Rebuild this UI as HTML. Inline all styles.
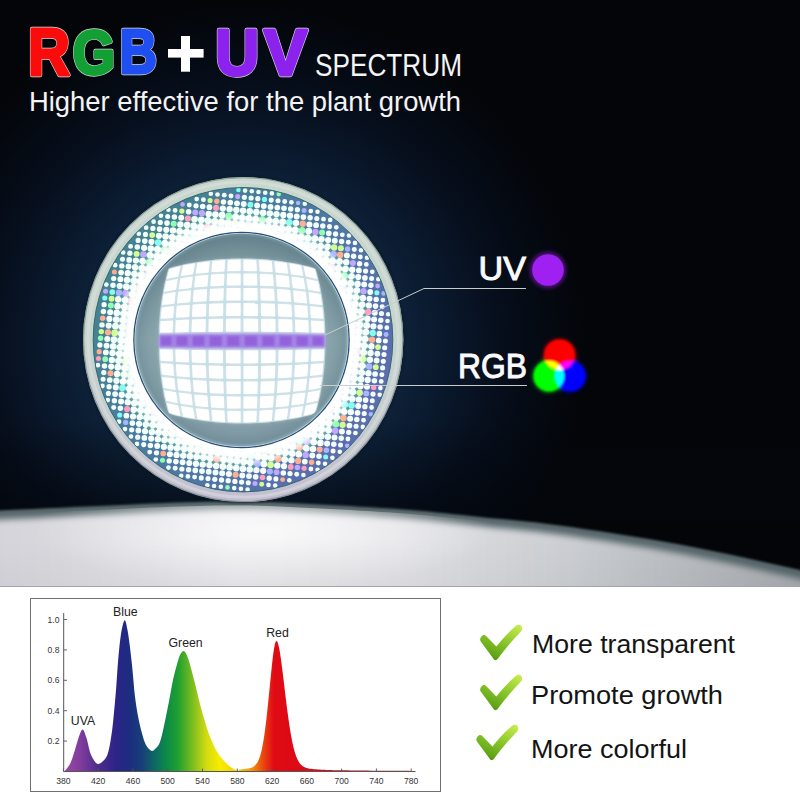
<!DOCTYPE html>
<html><head><meta charset="utf-8">
<style>
html,body{margin:0;padding:0;background:#fff;}
body{width:800px;height:800px;overflow:hidden;position:relative;font-family:"Liberation Sans",sans-serif;}
svg{position:absolute;left:0;top:0;}
</style></head><body>
<svg width="800" height="800" viewBox="0 0 800 800" font-family="Liberation Sans, sans-serif">
<defs>
<radialGradient id="glow" cx="244" cy="345" r="340" gradientUnits="userSpaceOnUse">
 <stop offset="0.47" stop-color="#0d2138"/>
 <stop offset="0.60" stop-color="#0a182c"/>
 <stop offset="0.72" stop-color="#07101f"/>
 <stop offset="0.84" stop-color="#050b15"/>
 <stop offset="1" stop-color="#030509"/>
</radialGradient>
<linearGradient id="rimg" x1="0" y1="0" x2="0" y2="1">
 <stop offset="0" stop-color="#c8d6ce"/>
 <stop offset="0.5" stop-color="#c8d4ce"/>
 <stop offset="0.85" stop-color="#c4c6d0"/>
 <stop offset="1" stop-color="#c4bcd2"/>
</linearGradient>
<linearGradient id="bandbase" x1="0" y1="0" x2="1" y2="0.6">
 <stop offset="0" stop-color="#42868a"/>
 <stop offset="0.5" stop-color="#4a7aa0"/>
 <stop offset="1" stop-color="#5e6cb0"/>
</linearGradient>
<radialGradient id="bandglow" cx="241.5" cy="340.0" r="150" gradientUnits="userSpaceOnUse">
 <stop offset="0.72" stop-color="#ffffff" stop-opacity="1"/>
 <stop offset="0.75" stop-color="#ffffff" stop-opacity="1"/>
 <stop offset="0.785" stop-color="#f4fffc" stop-opacity="0.6"/>
 <stop offset="0.835" stop-color="#ffffff" stop-opacity="0"/>
</radialGradient>
<radialGradient id="lensg" cx="241.5" cy="340.0" r="108.3" gradientUnits="userSpaceOnUse">
 <stop offset="0.7" stop-color="#92acb2"/>
 <stop offset="0.86" stop-color="#84a0a8"/>
 <stop offset="0.95" stop-color="#7a96a0"/>
 <stop offset="0.975" stop-color="#88a8b0"/>
 <stop offset="0.985" stop-color="#b4d2d2"/>
 <stop offset="0.992" stop-color="#2c4c7c"/>
 <stop offset="1" stop-color="#2c4c7c"/>
</radialGradient>
<linearGradient id="lensshade" x1="0" y1="0" x2="0" y2="1">
 <stop offset="0" stop-color="#1a3a48" stop-opacity="0.22"/>
 <stop offset="0.5" stop-color="#1a3a48" stop-opacity="0"/>
 <stop offset="1" stop-color="#3a4a70" stop-opacity="0.08"/>
</linearGradient>
<filter id="blurd" x="-5%" y="-5%" width="110%" height="110%"><feGaussianBlur stdDeviation="0.45"/></filter>
<filter id="blur2" x="-20%" y="-20%" width="140%" height="140%"><feGaussianBlur stdDeviation="2"/></filter>
<filter id="blur4" x="-20%" y="-20%" width="140%" height="140%"><feGaussianBlur stdDeviation="4"/></filter>
<filter id="blur1" x="-20%" y="-20%" width="140%" height="140%"><feGaussianBlur stdDeviation="0.8"/></filter>
<filter id="sblur" x="-10%" y="-10%" width="120%" height="120%"><feGaussianBlur stdDeviation="5"/></filter>

<linearGradient id="surfx" x1="0" y1="0" x2="800" y2="0" gradientUnits="userSpaceOnUse">
 <stop offset="0" stop-color="#d4d4da"/><stop offset="0.3" stop-color="#e6e6ea"/><stop offset="0.5" stop-color="#e0e0e4"/>
 <stop offset="0.72" stop-color="#cacdd1"/><stop offset="1" stop-color="#a6aaae"/>
</linearGradient>
<linearGradient id="surfy" x1="0" y1="540" x2="0" y2="587" gradientUnits="userSpaceOnUse">
 <stop offset="0" stop-color="#000" stop-opacity="0"/><stop offset="1" stop-color="#000" stop-opacity="0.03"/>
</linearGradient>
<radialGradient id="hl"><stop offset="0" stop-color="#fff" stop-opacity="0.8"/><stop offset="1" stop-color="#fff" stop-opacity="0"/></radialGradient>
<linearGradient id="horizon" x1="0" y1="420" x2="0" y2="520" gradientUnits="userSpaceOnUse"><stop offset="0" stop-color="#03060c" stop-opacity="0"/><stop offset="0.85" stop-color="#03060c" stop-opacity="0.55"/><stop offset="1" stop-color="#03060c" stop-opacity="0.6"/></linearGradient>
<filter id="blur3" x="-10%" y="-10%" width="120%" height="120%"><feGaussianBlur stdDeviation="3"/></filter>
<clipPath id="surfclip"><path d="M-40,640 L-40,513 L-37.3,512.8 L-34.2,512.6 L-30.6,512.3 L-26.2,512 L-21.2,511.7 L-15.2,511.3 L-8.1,510.9 L0,510.5 L9.8,510 L21.2,509.5 L34,508.9 L47.5,508.3 L61.3,507.7 L75,507.1 L88,506.5 L100,506 L111,505.5 L121.6,505 L131.9,504.5 L141.9,504 L151.6,503.6 L161.2,503.2 L170.6,502.8 L180,502.5 L189.2,502.2 L198,502 L206.5,501.7 L215,501.6 L223.5,501.4 L232,501.4 L240.8,501.4 L250,501.5 L259.5,501.7 L269.3,502 L279.3,502.4 L289.4,502.9 L299.6,503.4 L309.8,503.9 L319.9,504.5 L330,505 L340.1,505.5 L350.2,506.1 L360.4,506.7 L370.6,507.3 L380.7,507.9 L390.7,508.6 L400.5,509.3 L410,510 L419.2,510.8 L428,511.6 L436.5,512.4 L445,513.3 L453.5,514.2 L462,515.1 L470.8,516 L480,517 L489.2,517.9 L498.4,518.8 L507.5,519.6 L516.9,520.5 L526.6,521.5 L537,522.6 L548,523.9 L560,525.5 L573.1,527.3 L587.2,529.4 L602.1,531.6 L617.5,533.9 L633.2,536.4 L649.1,539 L664.7,541.7 L680,544.5 L695.4,547.5 L711.4,550.7 L727.6,554.1 L743.8,557.6 L759.4,561 L774.2,564.3 L787.9,567.3 L800,570 L810.8,572.4 L820.6,574.6 L829.5,576.7 L837.5,578.6 L844.5,580.3 L850.6,581.8 L855.8,583 L860,584 L860,640 Z" transform="translate(0,4)"/></clipPath>
<clipPath id="photoclip"><rect x="0" y="0" width="800" height="587"/></clipPath>
</defs>
<g clip-path="url(#photoclip)">
<rect x="0" y="0" width="800" height="587" fill="#030509"/>
<rect x="0" y="0" width="800" height="587" fill="url(#glow)"/>
<rect x="0" y="420" width="800" height="100" fill="url(#horizon)"/>
<path d="M-40,640 L-40,513 L-37.3,512.8 L-34.2,512.6 L-30.6,512.3 L-26.2,512 L-21.2,511.7 L-15.2,511.3 L-8.1,510.9 L0,510.5 L9.8,510 L21.2,509.5 L34,508.9 L47.5,508.3 L61.3,507.7 L75,507.1 L88,506.5 L100,506 L111,505.5 L121.6,505 L131.9,504.5 L141.9,504 L151.6,503.6 L161.2,503.2 L170.6,502.8 L180,502.5 L189.2,502.2 L198,502 L206.5,501.7 L215,501.6 L223.5,501.4 L232,501.4 L240.8,501.4 L250,501.5 L259.5,501.7 L269.3,502 L279.3,502.4 L289.4,502.9 L299.6,503.4 L309.8,503.9 L319.9,504.5 L330,505 L340.1,505.5 L350.2,506.1 L360.4,506.7 L370.6,507.3 L380.7,507.9 L390.7,508.6 L400.5,509.3 L410,510 L419.2,510.8 L428,511.6 L436.5,512.4 L445,513.3 L453.5,514.2 L462,515.1 L470.8,516 L480,517 L489.2,517.9 L498.4,518.8 L507.5,519.6 L516.9,520.5 L526.6,521.5 L537,522.6 L548,523.9 L560,525.5 L573.1,527.3 L587.2,529.4 L602.1,531.6 L617.5,533.9 L633.2,536.4 L649.1,539 L664.7,541.7 L680,544.5 L695.4,547.5 L711.4,550.7 L727.6,554.1 L743.8,557.6 L759.4,561 L774.2,564.3 L787.9,567.3 L800,570 L810.8,572.4 L820.6,574.6 L829.5,576.7 L837.5,578.6 L844.5,580.3 L850.6,581.8 L855.8,583 L860,584 L860,640 Z" fill="#56666a" filter="url(#blur1)"/>
<path d="M-40,640 L-40,513 L-37.3,512.8 L-34.2,512.6 L-30.6,512.3 L-26.2,512 L-21.2,511.7 L-15.2,511.3 L-8.1,510.9 L0,510.5 L9.8,510 L21.2,509.5 L34,508.9 L47.5,508.3 L61.3,507.7 L75,507.1 L88,506.5 L100,506 L111,505.5 L121.6,505 L131.9,504.5 L141.9,504 L151.6,503.6 L161.2,503.2 L170.6,502.8 L180,502.5 L189.2,502.2 L198,502 L206.5,501.7 L215,501.6 L223.5,501.4 L232,501.4 L240.8,501.4 L250,501.5 L259.5,501.7 L269.3,502 L279.3,502.4 L289.4,502.9 L299.6,503.4 L309.8,503.9 L319.9,504.5 L330,505 L340.1,505.5 L350.2,506.1 L360.4,506.7 L370.6,507.3 L380.7,507.9 L390.7,508.6 L400.5,509.3 L410,510 L419.2,510.8 L428,511.6 L436.5,512.4 L445,513.3 L453.5,514.2 L462,515.1 L470.8,516 L480,517 L489.2,517.9 L498.4,518.8 L507.5,519.6 L516.9,520.5 L526.6,521.5 L537,522.6 L548,523.9 L560,525.5 L573.1,527.3 L587.2,529.4 L602.1,531.6 L617.5,533.9 L633.2,536.4 L649.1,539 L664.7,541.7 L680,544.5 L695.4,547.5 L711.4,550.7 L727.6,554.1 L743.8,557.6 L759.4,561 L774.2,564.3 L787.9,567.3 L800,570 L810.8,572.4 L820.6,574.6 L829.5,576.7 L837.5,578.6 L844.5,580.3 L850.6,581.8 L855.8,583 L860,584 L860,640 Z" transform="translate(0,9)" fill="url(#surfx)" filter="url(#blur3)"/>
<ellipse cx="265" cy="530" rx="230" ry="60" fill="url(#hl)" clip-path="url(#surfclip)"/>
<rect x="0" y="540" width="800" height="47" fill="url(#surfy)"/>
<ellipse cx="243.2" cy="339.6" rx="161.39999999999998" ry="163.7" fill="#0a1a26" opacity="0.6" filter="url(#blur1)"/>
<ellipse cx="243.2" cy="339.6" rx="160.2" ry="162.5" fill="url(#rimg)"/>
<ellipse cx="243.2" cy="339.6" rx="159.6" ry="161.9" fill="none" stroke="#7a8c8a" stroke-width="1.1" opacity="0.8"/>
<ellipse cx="243.2" cy="339.6" rx="155.2" ry="157.5" fill="none" stroke="#dce4e0" stroke-width="3" opacity="0.5"/>
<ellipse cx="243.0" cy="339.7" rx="149.8" ry="152.2" fill="url(#bandbase)"/>
<g filter="url(#blurd)"><circle cx="106.3" cy="284.6" r="2.40" fill="#f2fffa"/><circle cx="105.6" cy="291.3" r="2.50" fill="#c0a8ff"/><circle cx="104.8" cy="298" r="2.57" fill="#80fff0"/><circle cx="104.1" cy="304.7" r="2.64" fill="#f2fffa"/><circle cx="103.4" cy="311.5" r="2.68" fill="#f2fffa"/><circle cx="102.7" cy="318.2" r="2.71" fill="#ffaf90"/><circle cx="102" cy="324.9" r="2.72" fill="#f2fffa"/><circle cx="101.3" cy="331.6" r="2.71" fill="#d0ff90"/><circle cx="100.6" cy="338.3" r="2.68" fill="#8dffb0"/><circle cx="99.9" cy="345" r="2.64" fill="#f2fffa"/><circle cx="99.2" cy="351.7" r="2.58" fill="#ffaf90"/><circle cx="98.5" cy="358.4" r="2.51" fill="#ff9fc0"/><circle cx="97.8" cy="365.2" r="2.41" fill="#f2fffa"/><circle cx="115.1" cy="265.2" r="2.36" fill="#f2fffa"/><circle cx="114.4" cy="271.9" r="2.50" fill="#ffaf90"/><circle cx="113.7" cy="278.6" r="2.64" fill="#f2fffa"/><circle cx="113" cy="285.3" r="2.75" fill="#f2fffa"/><circle cx="112.3" cy="292" r="2.85" fill="#80fff0"/><circle cx="111.6" cy="298.7" r="2.93" fill="#d0ff90"/><circle cx="110.9" cy="305.4" r="3.00" fill="#8dffb0"/><circle cx="110.2" cy="312.2" r="3.04" fill="#f2fffa"/><circle cx="109.4" cy="318.9" r="3.07" fill="#f2fffa"/><circle cx="108.7" cy="325.6" r="3.08" fill="#f2fffa"/><circle cx="108" cy="332.3" r="3.08" fill="#ffaf90"/><circle cx="107.3" cy="339" r="3.05" fill="#f2fffa"/><circle cx="106.6" cy="345.7" r="3.00" fill="#f2fffa"/><circle cx="105.9" cy="352.4" r="2.94" fill="#f2fffa"/><circle cx="105.2" cy="359.2" r="2.86" fill="#8dffb0"/><circle cx="104.5" cy="365.9" r="2.77" fill="#f2fffa"/><circle cx="103.8" cy="372.6" r="2.65" fill="#f2fffa"/><circle cx="103.1" cy="379.3" r="2.52" fill="#f2fffa"/><circle cx="102.4" cy="386" r="2.38" fill="#f2fffa"/><circle cx="123.2" cy="252.5" r="2.35" fill="#f2fffa"/><circle cx="122.5" cy="259.2" r="2.52" fill="#f2fffa"/><circle cx="121.8" cy="265.9" r="2.69" fill="#f2fffa"/><circle cx="121.1" cy="272.6" r="2.84" fill="#f2fffa"/><circle cx="120.4" cy="279.3" r="2.98" fill="#f2fffa"/><circle cx="119.7" cy="286" r="3.10" fill="#f2fffa"/><circle cx="119" cy="292.7" r="3.20" fill="#a9b6ff"/><circle cx="118.3" cy="299.4" r="3.29" fill="#f2fffa"/><circle cx="117.6" cy="306.2" r="3.36" fill="#f2fffa"/><circle cx="116.9" cy="312.9" r="3.41" fill="#f2fffa"/><circle cx="116.2" cy="319.6" r="3.44" fill="#f2fffa"/><circle cx="115.5" cy="326.3" r="3.45" fill="#f2fffa"/><circle cx="114.7" cy="333" r="3.44" fill="#d0ff90"/><circle cx="114" cy="339.7" r="3.41" fill="#f2fffa"/><circle cx="113.3" cy="346.4" r="3.37" fill="#f2fffa"/><circle cx="112.6" cy="353.1" r="3.30" fill="#f2fffa"/><circle cx="111.9" cy="359.9" r="3.22" fill="#f2fffa"/><circle cx="111.2" cy="366.6" r="3.11" fill="#f2fffa"/><circle cx="110.5" cy="373.3" r="3.00" fill="#ffaf90"/><circle cx="109.8" cy="380" r="2.86" fill="#f2fffa"/><circle cx="109.1" cy="386.7" r="2.71" fill="#f2fffa"/><circle cx="108.4" cy="393.4" r="2.55" fill="#f2fffa"/><circle cx="107.7" cy="400.1" r="2.37" fill="#f2fffa"/><circle cx="130.6" cy="246.4" r="2.46" fill="#f2fffa"/><circle cx="129.9" cy="253.2" r="2.66" fill="#f2fffa"/><circle cx="129.2" cy="259.9" r="2.84" fill="#f2fffa"/><circle cx="128.5" cy="266.6" r="3.02" fill="#f2fffa"/><circle cx="127.8" cy="273.3" r="3.18" fill="#f2fffa"/><circle cx="127.1" cy="280" r="3.32" fill="#f2fffa"/><circle cx="126.4" cy="286.7" r="3.45" fill="#f2fffa"/><circle cx="125.7" cy="293.4" r="3.56" fill="#c0a8ff"/><circle cx="125" cy="300.1" r="3.60" fill="#f2fffa"/><circle cx="124.3" cy="306.9" r="3.60" fill="#f2fffa"/><circle cx="123.6" cy="313.6" r="3.60" fill="#f2fffa"/><circle cx="122.9" cy="320.3" r="3.60" fill="#f2fffa"/><circle cx="122.2" cy="327" r="3.60" fill="#f2fffa"/><circle cx="121.5" cy="333.7" r="3.60" fill="#f2fffa"/><circle cx="120.8" cy="340.4" r="3.60" fill="#f2fffa"/><circle cx="120" cy="347.1" r="3.60" fill="#f2fffa"/><circle cx="119.3" cy="353.9" r="3.60" fill="#f2fffa"/><circle cx="118.6" cy="360.6" r="3.57" fill="#f2fffa"/><circle cx="117.9" cy="367.3" r="3.46" fill="#f2fffa"/><circle cx="117.2" cy="374" r="3.34" fill="#f2fffa"/><circle cx="116.5" cy="380.7" r="3.20" fill="#f2fffa"/><circle cx="115.8" cy="387.4" r="3.04" fill="#f2fffa"/><circle cx="115.1" cy="394.1" r="2.87" fill="#f2fffa"/><circle cx="114.4" cy="400.8" r="2.68" fill="#f2fffa"/><circle cx="113.7" cy="407.6" r="2.49" fill="#f2fffa"/><circle cx="138.8" cy="233.7" r="2.31" fill="#f2fffa"/><circle cx="138.1" cy="240.4" r="2.54" fill="#f2fffa"/><circle cx="137.3" cy="247.1" r="2.76" fill="#f2fffa"/><circle cx="136.6" cy="253.9" r="2.97" fill="#d0ff90"/><circle cx="135.9" cy="260.6" r="3.16" fill="#f2fffa"/><circle cx="135.2" cy="267.3" r="3.34" fill="#f2fffa"/><circle cx="134.5" cy="274" r="3.51" fill="#f2fffa"/><circle cx="133.8" cy="280.7" r="3.60" fill="#f2fffa"/><circle cx="133.1" cy="287.4" r="3.60" fill="#f2fffa"/><circle cx="132.4" cy="294.1" r="3.60" fill="#f2fffa"/><circle cx="131.7" cy="300.9" r="3.60" fill="#ff9fc0"/><circle cx="131" cy="307.6" r="3.60" fill="#c0a8ff"/><circle cx="130.3" cy="314.3" r="3.60" fill="#f2fffa"/><circle cx="127.5" cy="341.1" r="3.60" fill="#f2fffa"/><circle cx="126.8" cy="347.8" r="3.60" fill="#f2fffa"/><circle cx="126.1" cy="354.6" r="3.60" fill="#f2fffa"/><circle cx="125.4" cy="361.3" r="3.60" fill="#d0ff90"/><circle cx="124.6" cy="368" r="3.60" fill="#f2fffa"/><circle cx="123.9" cy="374.7" r="3.60" fill="#f2fffa"/><circle cx="123.2" cy="381.4" r="3.53" fill="#f2fffa"/><circle cx="122.5" cy="388.1" r="3.37" fill="#80fff0"/><circle cx="121.8" cy="394.8" r="3.19" fill="#f2fffa"/><circle cx="121.1" cy="401.5" r="2.99" fill="#f2fffa"/><circle cx="120.4" cy="408.3" r="2.79" fill="#f2fffa"/><circle cx="119.7" cy="415" r="2.57" fill="#80fff0"/><circle cx="119" cy="421.7" r="2.34" fill="#f2fffa"/><circle cx="146.2" cy="227.7" r="2.34" fill="#f2fffa"/><circle cx="145.5" cy="234.4" r="2.59" fill="#f2fffa"/><circle cx="144.8" cy="241.1" r="2.82" fill="#f2fffa"/><circle cx="144.1" cy="247.9" r="3.05" fill="#f2fffa"/><circle cx="143.4" cy="254.6" r="3.27" fill="#c0a8ff"/><circle cx="142.6" cy="261.3" r="3.47" fill="#f2fffa"/><circle cx="141.9" cy="268" r="3.60" fill="#f2fffa"/><circle cx="141.2" cy="274.7" r="3.60" fill="#f2fffa"/><circle cx="140.5" cy="281.4" r="3.60" fill="#f2fffa"/><circle cx="139.8" cy="288.1" r="3.60" fill="#ffaf90"/><circle cx="130.7" cy="375.4" r="3.60" fill="#8dffb0"/><circle cx="129.9" cy="382.1" r="3.60" fill="#f2fffa"/><circle cx="129.2" cy="388.8" r="3.60" fill="#f2fffa"/><circle cx="128.5" cy="395.5" r="3.50" fill="#f2fffa"/><circle cx="127.8" cy="402.3" r="3.30" fill="#f2fffa"/><circle cx="127.1" cy="409" r="3.08" fill="#ff9fc0"/><circle cx="126.4" cy="415.7" r="2.86" fill="#f2fffa"/><circle cx="125.7" cy="422.4" r="2.62" fill="#a9b6ff"/><circle cx="125" cy="429.1" r="2.37" fill="#f2fffa"/><circle cx="153.6" cy="221.7" r="2.33" fill="#f2fffa"/><circle cx="152.9" cy="228.4" r="2.60" fill="#f2fffa"/><circle cx="152.2" cy="235.1" r="2.86" fill="#d0ff90"/><circle cx="151.5" cy="241.8" r="3.10" fill="#f2fffa"/><circle cx="150.8" cy="248.6" r="3.34" fill="#f2fffa"/><circle cx="150.1" cy="255.3" r="3.56" fill="#f2fffa"/><circle cx="149.4" cy="262" r="3.60" fill="#8dffb0"/><circle cx="148.7" cy="268.7" r="3.60" fill="#f2fffa"/><circle cx="136" cy="389.5" r="3.60" fill="#f2fffa"/><circle cx="135.2" cy="396.2" r="3.60" fill="#f2fffa"/><circle cx="134.5" cy="403" r="3.59" fill="#f2fffa"/><circle cx="133.8" cy="409.7" r="3.37" fill="#f2fffa"/><circle cx="133.1" cy="416.4" r="3.14" fill="#f2fffa"/><circle cx="132.4" cy="423.1" r="2.89" fill="#f2fffa"/><circle cx="131.7" cy="429.8" r="2.63" fill="#f2fffa"/><circle cx="131" cy="436.5" r="2.37" fill="#f2fffa"/><circle cx="161" cy="215.7" r="2.30" fill="#f2fffa"/><circle cx="160.3" cy="222.4" r="2.58" fill="#f2fffa"/><circle cx="159.6" cy="229.1" r="2.85" fill="#f2fffa"/><circle cx="158.9" cy="235.8" r="3.12" fill="#f2fffa"/><circle cx="158.2" cy="242.6" r="3.37" fill="#80fff0"/><circle cx="157.5" cy="249.3" r="3.60" fill="#f2fffa"/><circle cx="156.8" cy="256" r="3.60" fill="#f2fffa"/><circle cx="156.1" cy="262.7" r="3.60" fill="#f2fffa"/><circle cx="142" cy="397" r="3.60" fill="#f2fffa"/><circle cx="141.3" cy="403.7" r="3.60" fill="#f2fffa"/><circle cx="140.6" cy="410.4" r="3.60" fill="#f2fffa"/><circle cx="139.8" cy="417.1" r="3.41" fill="#f2fffa"/><circle cx="139.1" cy="423.8" r="3.15" fill="#f2fffa"/><circle cx="138.4" cy="430.5" r="2.89" fill="#f2fffa"/><circle cx="137.7" cy="437.2" r="2.61" fill="#f2fffa"/><circle cx="137" cy="443.9" r="2.33" fill="#f2fffa"/><circle cx="168.4" cy="209.7" r="2.30" fill="#f2fffa"/><circle cx="167.7" cy="216.4" r="2.52" fill="#f2fffa"/><circle cx="167" cy="223.1" r="2.81" fill="#f2fffa"/><circle cx="166.3" cy="229.8" r="3.09" fill="#f2fffa"/><circle cx="165.6" cy="236.5" r="3.37" fill="#f2fffa"/><circle cx="164.9" cy="243.3" r="3.60" fill="#f2fffa"/><circle cx="164.2" cy="250" r="3.60" fill="#8dffb0"/><circle cx="163.5" cy="256.7" r="3.60" fill="#f2fffa"/><circle cx="147.3" cy="411.1" r="3.60" fill="#f2fffa"/><circle cx="146.6" cy="417.8" r="3.60" fill="#f2fffa"/><circle cx="145.9" cy="424.5" r="3.40" fill="#f2fffa"/><circle cx="145.1" cy="431.2" r="3.13" fill="#f2fffa"/><circle cx="144.4" cy="437.9" r="2.85" fill="#f2fffa"/><circle cx="143.7" cy="444.6" r="2.56" fill="#f2fffa"/><circle cx="175.1" cy="210.4" r="2.43" fill="#f2fffa"/><circle cx="174.4" cy="217.1" r="2.73" fill="#f2fffa"/><circle cx="173.7" cy="223.8" r="3.03" fill="#8dffb0"/><circle cx="173" cy="230.5" r="3.32" fill="#f2fffa"/><circle cx="172.3" cy="237.3" r="3.60" fill="#f2fffa"/><circle cx="171.6" cy="244" r="3.60" fill="#f2fffa"/><circle cx="153.3" cy="418.5" r="3.60" fill="#f2fffa"/><circle cx="152.6" cy="425.2" r="3.60" fill="#f2fffa"/><circle cx="151.9" cy="431.9" r="3.36" fill="#f2fffa"/><circle cx="151.2" cy="438.6" r="3.07" fill="#f2fffa"/><circle cx="150.4" cy="445.4" r="2.77" fill="#f2fffa"/><circle cx="149.7" cy="452.1" r="2.47" fill="#f2fffa"/><circle cx="182.6" cy="204.4" r="2.31" fill="#c0a8ff"/><circle cx="181.9" cy="211.1" r="2.62" fill="#d0ff90"/><circle cx="181.2" cy="217.8" r="2.94" fill="#f2fffa"/><circle cx="180.4" cy="224.5" r="3.24" fill="#f2fffa"/><circle cx="179.7" cy="231.2" r="3.54" fill="#f2fffa"/><circle cx="179" cy="238" r="3.60" fill="#f2fffa"/><circle cx="178.3" cy="244.7" r="3.60" fill="#f2fffa"/><circle cx="159.3" cy="425.9" r="3.60" fill="#f2fffa"/><circle cx="158.6" cy="432.6" r="3.58" fill="#f2fffa"/><circle cx="157.9" cy="439.3" r="3.28" fill="#f2fffa"/><circle cx="157.2" cy="446.1" r="2.98" fill="#f2fffa"/><circle cx="156.5" cy="452.8" r="2.67" fill="#f2fffa"/><circle cx="155.8" cy="459.5" r="2.35" fill="#f2fffa"/><circle cx="189.3" cy="205.1" r="2.48" fill="#f2fffa"/><circle cx="188.6" cy="211.8" r="2.80" fill="#f2fffa"/><circle cx="187.9" cy="218.5" r="3.12" fill="#ff9fc0"/><circle cx="187.2" cy="225.2" r="3.44" fill="#f2fffa"/><circle cx="186.5" cy="231.9" r="3.60" fill="#f2fffa"/><circle cx="185.7" cy="238.7" r="3.60" fill="#f2fffa"/><circle cx="166" cy="426.6" r="3.60" fill="#f2fffa"/><circle cx="165.3" cy="433.3" r="3.60" fill="#f2fffa"/><circle cx="164.6" cy="440.1" r="3.48" fill="#f2fffa"/><circle cx="163.9" cy="446.8" r="3.17" fill="#f2fffa"/><circle cx="163.2" cy="453.5" r="2.85" fill="#ffaf90"/><circle cx="162.5" cy="460.2" r="2.52" fill="#8dffb0"/><circle cx="196.7" cy="199.1" r="2.31" fill="#f2fffa"/><circle cx="196" cy="205.8" r="2.64" fill="#f2fffa"/><circle cx="195.3" cy="212.5" r="2.97" fill="#c0a8ff"/><circle cx="194.6" cy="219.2" r="3.30" fill="#f2fffa"/><circle cx="193.9" cy="225.9" r="3.60" fill="#f2fffa"/><circle cx="193.2" cy="232.7" r="3.60" fill="#f2fffa"/><circle cx="172" cy="434" r="3.60" fill="#f2fffa"/><circle cx="171.3" cy="440.8" r="3.60" fill="#f2fffa"/><circle cx="170.6" cy="447.5" r="3.34" fill="#f2fffa"/><circle cx="169.9" cy="454.2" r="3.02" fill="#f2fffa"/><circle cx="169.2" cy="460.9" r="2.69" fill="#f2fffa"/><circle cx="168.5" cy="467.6" r="2.35" fill="#f2fffa"/><circle cx="203.4" cy="199.8" r="2.45" fill="#f2fffa"/><circle cx="202.7" cy="206.5" r="2.79" fill="#f2fffa"/><circle cx="202" cy="213.2" r="3.12" fill="#c0a8ff"/><circle cx="201.3" cy="219.9" r="3.46" fill="#f2fffa"/><circle cx="200.6" cy="226.6" r="3.60" fill="#f2fffa"/><circle cx="199.9" cy="233.4" r="3.60" fill="#f2fffa"/><circle cx="178" cy="441.5" r="3.60" fill="#f2fffa"/><circle cx="177.3" cy="448.2" r="3.50" fill="#f2fffa"/><circle cx="176.6" cy="454.9" r="3.17" fill="#f2fffa"/><circle cx="175.9" cy="461.6" r="2.83" fill="#f2fffa"/><circle cx="175.2" cy="468.3" r="2.49" fill="#f2fffa"/><circle cx="210.8" cy="193.8" r="2.30" fill="#f2fffa"/><circle cx="210.1" cy="200.5" r="2.57" fill="#d0ff90"/><circle cx="209.4" cy="207.2" r="2.92" fill="#f2fffa"/><circle cx="208.7" cy="213.9" r="3.26" fill="#f2fffa"/><circle cx="208" cy="220.6" r="3.60" fill="#f2fffa"/><circle cx="207.3" cy="227.4" r="3.60" fill="#ff9fc0"/><circle cx="184.7" cy="442.2" r="3.60" fill="#f2fffa"/><circle cx="184" cy="448.9" r="3.60" fill="#f2fffa"/><circle cx="183.3" cy="455.6" r="3.31" fill="#f2fffa"/><circle cx="182.6" cy="462.3" r="2.96" fill="#f2fffa"/><circle cx="181.9" cy="469" r="2.62" fill="#f2fffa"/><circle cx="181.2" cy="475.7" r="2.30" fill="#f2fffa"/><circle cx="217.5" cy="194.5" r="2.33" fill="#f2fffa"/><circle cx="216.8" cy="201.2" r="2.68" fill="#ffaf90"/><circle cx="216.1" cy="207.9" r="3.03" fill="#ff9fc0"/><circle cx="215.4" cy="214.6" r="3.38" fill="#f2fffa"/><circle cx="214.7" cy="221.3" r="3.60" fill="#f2fffa"/><circle cx="214" cy="228.1" r="3.60" fill="#f2fffa"/><circle cx="191.4" cy="442.9" r="3.60" fill="#f2fffa"/><circle cx="190.7" cy="449.6" r="3.60" fill="#f2fffa"/><circle cx="190" cy="456.3" r="3.43" fill="#f2fffa"/><circle cx="189.3" cy="463" r="3.08" fill="#f2fffa"/><circle cx="188.6" cy="469.7" r="2.73" fill="#f2fffa"/><circle cx="187.9" cy="476.4" r="2.38" fill="#f2fffa"/><circle cx="224.3" cy="195.2" r="2.42" fill="#f2fffa"/><circle cx="223.5" cy="201.9" r="2.77" fill="#f2fffa"/><circle cx="222.8" cy="208.6" r="3.13" fill="#f2fffa"/><circle cx="222.1" cy="215.3" r="3.48" fill="#f2fffa"/><circle cx="221.4" cy="222.1" r="3.60" fill="#f2fffa"/><circle cx="197.4" cy="450.3" r="3.60" fill="#f2fffa"/><circle cx="196.7" cy="457" r="3.53" fill="#f2fffa"/><circle cx="196" cy="463.7" r="3.18" fill="#f2fffa"/><circle cx="195.3" cy="470.4" r="2.82" fill="#f2fffa"/><circle cx="194.6" cy="477.1" r="2.47" fill="#f2fffa"/><circle cx="231" cy="195.9" r="2.49" fill="#f2fffa"/><circle cx="230.3" cy="202.6" r="2.85" fill="#f2fffa"/><circle cx="229.6" cy="209.3" r="3.21" fill="#f2fffa"/><circle cx="228.8" cy="216" r="3.57" fill="#8dffb0"/><circle cx="228.1" cy="222.8" r="3.60" fill="#f2fffa"/><circle cx="204.2" cy="451" r="3.60" fill="#f2fffa"/><circle cx="203.4" cy="457.7" r="3.60" fill="#f2fffa"/><circle cx="202.7" cy="464.4" r="3.26" fill="#f2fffa"/><circle cx="202" cy="471.1" r="2.90" fill="#f2fffa"/><circle cx="201.3" cy="477.9" r="2.54" fill="#f2fffa"/><circle cx="238.4" cy="189.9" r="2.30" fill="#80fff0"/><circle cx="237.7" cy="196.6" r="2.55" fill="#c0a8ff"/><circle cx="237" cy="203.3" r="2.91" fill="#f2fffa"/><circle cx="236.3" cy="210" r="3.27" fill="#f2fffa"/><circle cx="235.6" cy="216.7" r="3.60" fill="#f2fffa"/><circle cx="234.9" cy="223.5" r="3.60" fill="#d0ff90"/><circle cx="210.9" cy="451.7" r="3.60" fill="#f2fffa"/><circle cx="210.2" cy="458.4" r="3.60" fill="#f2fffa"/><circle cx="209.5" cy="465.1" r="3.32" fill="#f2fffa"/><circle cx="208.7" cy="471.8" r="2.96" fill="#f2fffa"/><circle cx="208" cy="478.6" r="2.60" fill="#f2fffa"/><circle cx="207.3" cy="485.3" r="2.30" fill="#f2fffa"/><circle cx="245.1" cy="190.6" r="2.30" fill="#f2fffa"/><circle cx="244.4" cy="197.3" r="2.59" fill="#f2fffa"/><circle cx="243.7" cy="204" r="2.95" fill="#f2fffa"/><circle cx="243" cy="210.7" r="3.31" fill="#f2fffa"/><circle cx="242.3" cy="217.5" r="3.60" fill="#f2fffa"/><circle cx="241.6" cy="224.2" r="3.60" fill="#f2fffa"/><circle cx="217.6" cy="452.4" r="3.60" fill="#f2fffa"/><circle cx="216.9" cy="459.1" r="3.60" fill="#ffaf90"/><circle cx="216.2" cy="465.8" r="3.36" fill="#f2fffa"/><circle cx="215.5" cy="472.5" r="3.00" fill="#f2fffa"/><circle cx="214.8" cy="479.3" r="2.64" fill="#f2fffa"/><circle cx="214.1" cy="486" r="2.30" fill="#f2fffa"/><circle cx="251.8" cy="191.3" r="2.30" fill="#f2fffa"/><circle cx="251.1" cy="198" r="2.61" fill="#f2fffa"/><circle cx="250.4" cy="204.7" r="2.97" fill="#80fff0"/><circle cx="249.7" cy="211.4" r="3.34" fill="#f2fffa"/><circle cx="249" cy="218.2" r="3.60" fill="#f2fffa"/><circle cx="248.3" cy="224.9" r="3.60" fill="#a9b6ff"/><circle cx="224.3" cy="453.1" r="3.60" fill="#80fff0"/><circle cx="223.6" cy="459.8" r="3.60" fill="#f2fffa"/><circle cx="222.9" cy="466.5" r="3.39" fill="#f2fffa"/><circle cx="222.2" cy="473.3" r="3.02" fill="#f2fffa"/><circle cx="221.5" cy="480" r="2.66" fill="#f2fffa"/><circle cx="220.8" cy="486.7" r="2.30" fill="#f2fffa"/><circle cx="258.5" cy="192" r="2.30" fill="#f2fffa"/><circle cx="257.8" cy="198.7" r="2.61" fill="#f2fffa"/><circle cx="257.1" cy="205.4" r="2.98" fill="#f2fffa"/><circle cx="256.4" cy="212.2" r="3.34" fill="#f2fffa"/><circle cx="255.7" cy="218.9" r="3.60" fill="#f2fffa"/><circle cx="255" cy="225.6" r="3.60" fill="#f2fffa"/><circle cx="231" cy="453.8" r="3.60" fill="#f2fffa"/><circle cx="230.3" cy="460.5" r="3.60" fill="#f2fffa"/><circle cx="229.6" cy="467.2" r="3.39" fill="#f2fffa"/><circle cx="228.9" cy="474" r="3.03" fill="#f2fffa"/><circle cx="228.2" cy="480.7" r="2.66" fill="#f2fffa"/><circle cx="227.5" cy="487.4" r="2.30" fill="#8dffb0"/><circle cx="265.2" cy="192.7" r="2.30" fill="#f2fffa"/><circle cx="264.5" cy="199.4" r="2.60" fill="#80fff0"/><circle cx="263.8" cy="206.1" r="2.97" fill="#f2fffa"/><circle cx="263.1" cy="212.9" r="3.33" fill="#f2fffa"/><circle cx="262.4" cy="219.6" r="3.60" fill="#8dffb0"/><circle cx="261.7" cy="226.3" r="3.60" fill="#f2fffa"/><circle cx="237.7" cy="454.5" r="3.60" fill="#f2fffa"/><circle cx="237" cy="461.2" r="3.60" fill="#f2fffa"/><circle cx="236.3" cy="468" r="3.38" fill="#f2fffa"/><circle cx="235.6" cy="474.7" r="3.02" fill="#ffaf90"/><circle cx="234.9" cy="481.4" r="2.65" fill="#f2fffa"/><circle cx="234.2" cy="488.1" r="2.30" fill="#f2fffa"/><circle cx="271.9" cy="193.4" r="2.30" fill="#f2fffa"/><circle cx="271.2" cy="200.1" r="2.57" fill="#f2fffa"/><circle cx="270.5" cy="206.9" r="2.93" fill="#f2fffa"/><circle cx="269.8" cy="213.6" r="3.30" fill="#f2fffa"/><circle cx="269.1" cy="220.3" r="3.60" fill="#f2fffa"/><circle cx="268.4" cy="227" r="3.60" fill="#f2fffa"/><circle cx="244.4" cy="455.2" r="3.60" fill="#f2fffa"/><circle cx="243.7" cy="461.9" r="3.60" fill="#f2fffa"/><circle cx="243" cy="468.7" r="3.35" fill="#f2fffa"/><circle cx="242.3" cy="475.4" r="2.98" fill="#f2fffa"/><circle cx="241.6" cy="482.1" r="2.62" fill="#f2fffa"/><circle cx="240.9" cy="488.8" r="2.30" fill="#f2fffa"/><circle cx="278.7" cy="194.1" r="2.30" fill="#8dffb0"/><circle cx="278" cy="200.8" r="2.52" fill="#f2fffa"/><circle cx="277.3" cy="207.6" r="2.89" fill="#f2fffa"/><circle cx="276.5" cy="214.3" r="3.25" fill="#f2fffa"/><circle cx="275.8" cy="221" r="3.60" fill="#f2fffa"/><circle cx="275.1" cy="227.7" r="3.60" fill="#f2fffa"/><circle cx="251.1" cy="455.9" r="3.60" fill="#80fff0"/><circle cx="250.4" cy="462.7" r="3.60" fill="#f2fffa"/><circle cx="249.7" cy="469.4" r="3.30" fill="#f2fffa"/><circle cx="249" cy="476.1" r="2.93" fill="#f2fffa"/><circle cx="248.3" cy="482.8" r="2.57" fill="#f2fffa"/><circle cx="247.6" cy="489.5" r="2.30" fill="#f2fffa"/><circle cx="284.7" cy="201.5" r="2.46" fill="#f2fffa"/><circle cx="284" cy="208.3" r="2.82" fill="#f2fffa"/><circle cx="283.3" cy="215" r="3.18" fill="#f2fffa"/><circle cx="282.6" cy="221.7" r="3.53" fill="#f2fffa"/><circle cx="281.8" cy="228.4" r="3.60" fill="#f2fffa"/><circle cx="257.9" cy="456.6" r="3.60" fill="#f2fffa"/><circle cx="257.2" cy="463.4" r="3.58" fill="#a9b6ff"/><circle cx="256.4" cy="470.1" r="3.22" fill="#f2fffa"/><circle cx="255.7" cy="476.8" r="2.87" fill="#f2fffa"/><circle cx="255" cy="483.5" r="2.51" fill="#c0a8ff"/><circle cx="291.4" cy="202.3" r="2.38" fill="#f2fffa"/><circle cx="290.7" cy="209" r="2.74" fill="#f2fffa"/><circle cx="290" cy="215.7" r="3.09" fill="#f2fffa"/><circle cx="289.3" cy="222.4" r="3.44" fill="#80fff0"/><circle cx="288.6" cy="229.1" r="3.60" fill="#f2fffa"/><circle cx="287.9" cy="235.8" r="3.60" fill="#f2fffa"/><circle cx="264.6" cy="457.3" r="3.60" fill="#f2fffa"/><circle cx="263.9" cy="464.1" r="3.49" fill="#f2fffa"/><circle cx="263.2" cy="470.8" r="3.14" fill="#f2fffa"/><circle cx="262.5" cy="477.5" r="2.78" fill="#ff9fc0"/><circle cx="261.7" cy="484.2" r="2.43" fill="#d0ff90"/><circle cx="298.1" cy="203" r="2.30" fill="#a9b6ff"/><circle cx="297.4" cy="209.7" r="2.64" fill="#f2fffa"/><circle cx="296.7" cy="216.4" r="2.98" fill="#f2fffa"/><circle cx="296" cy="223.1" r="3.33" fill="#f2fffa"/><circle cx="295.3" cy="229.8" r="3.60" fill="#f2fffa"/><circle cx="294.6" cy="236.5" r="3.60" fill="#f2fffa"/><circle cx="272" cy="451.3" r="3.60" fill="#f2fffa"/><circle cx="271.3" cy="458.1" r="3.60" fill="#f2fffa"/><circle cx="270.6" cy="464.8" r="3.38" fill="#d0ff90"/><circle cx="269.9" cy="471.5" r="3.03" fill="#a9b6ff"/><circle cx="269.2" cy="478.2" r="2.68" fill="#f2fffa"/><circle cx="268.5" cy="484.9" r="2.33" fill="#f2fffa"/><circle cx="304.8" cy="203.7" r="2.30" fill="#f2fffa"/><circle cx="304.1" cy="210.4" r="2.52" fill="#a9b6ff"/><circle cx="303.4" cy="217.1" r="2.86" fill="#f2fffa"/><circle cx="302.7" cy="223.8" r="3.20" fill="#ffaf90"/><circle cx="302" cy="230.5" r="3.54" fill="#8dffb0"/><circle cx="301.3" cy="237.2" r="3.60" fill="#f2fffa"/><circle cx="278.7" cy="452" r="3.60" fill="#f2fffa"/><circle cx="278" cy="458.8" r="3.59" fill="#ffaf90"/><circle cx="277.3" cy="465.5" r="3.25" fill="#f2fffa"/><circle cx="276.6" cy="472.2" r="2.91" fill="#c0a8ff"/><circle cx="275.9" cy="478.9" r="2.57" fill="#f2fffa"/><circle cx="275.2" cy="485.6" r="2.30" fill="#f2fffa"/><circle cx="310.8" cy="211.1" r="2.39" fill="#f2fffa"/><circle cx="310.1" cy="217.8" r="2.73" fill="#f2fffa"/><circle cx="309.4" cy="224.5" r="3.06" fill="#f2fffa"/><circle cx="308.7" cy="231.2" r="3.39" fill="#f2fffa"/><circle cx="308" cy="237.9" r="3.60" fill="#f2fffa"/><circle cx="307.3" cy="244.6" r="3.60" fill="#80fff0"/><circle cx="286.1" cy="446" r="3.60" fill="#f2fffa"/><circle cx="285.4" cy="452.8" r="3.60" fill="#f2fffa"/><circle cx="284.7" cy="459.5" r="3.44" fill="#f2fffa"/><circle cx="284" cy="466.2" r="3.10" fill="#f2fffa"/><circle cx="283.3" cy="472.9" r="2.77" fill="#f2fffa"/><circle cx="282.6" cy="479.6" r="2.43" fill="#ffaf90"/><circle cx="317.5" cy="211.8" r="2.30" fill="#f2fffa"/><circle cx="316.8" cy="218.5" r="2.57" fill="#f2fffa"/><circle cx="316.1" cy="225.2" r="2.90" fill="#f2fffa"/><circle cx="315.4" cy="231.9" r="3.22" fill="#c0a8ff"/><circle cx="314.7" cy="238.6" r="3.54" fill="#f2fffa"/><circle cx="314" cy="245.4" r="3.60" fill="#f2fffa"/><circle cx="292.8" cy="446.7" r="3.60" fill="#f2fffa"/><circle cx="292.1" cy="453.5" r="3.59" fill="#f2fffa"/><circle cx="291.4" cy="460.2" r="3.27" fill="#f2fffa"/><circle cx="290.7" cy="466.9" r="2.94" fill="#ff9fc0"/><circle cx="290" cy="473.6" r="2.62" fill="#f2fffa"/><circle cx="289.3" cy="480.3" r="2.30" fill="#f2fffa"/><circle cx="323.5" cy="219.2" r="2.41" fill="#f2fffa"/><circle cx="322.8" cy="225.9" r="2.73" fill="#f2fffa"/><circle cx="322.1" cy="232.6" r="3.04" fill="#8dffb0"/><circle cx="321.4" cy="239.3" r="3.36" fill="#f2fffa"/><circle cx="320.7" cy="246.1" r="3.60" fill="#f2fffa"/><circle cx="320" cy="252.8" r="3.60" fill="#f2fffa"/><circle cx="300.3" cy="440.7" r="3.60" fill="#80fff0"/><circle cx="299.5" cy="447.5" r="3.60" fill="#ffaf90"/><circle cx="298.8" cy="454.2" r="3.40" fill="#f2fffa"/><circle cx="298.1" cy="460.9" r="3.09" fill="#ffaf90"/><circle cx="297.4" cy="467.6" r="2.77" fill="#c0a8ff"/><circle cx="296.7" cy="474.3" r="2.45" fill="#f2fffa"/><circle cx="330.2" cy="219.9" r="2.30" fill="#f2fffa"/><circle cx="329.5" cy="226.6" r="2.54" fill="#f2fffa"/><circle cx="328.8" cy="233.3" r="2.85" fill="#f2fffa"/><circle cx="328.1" cy="240.1" r="3.15" fill="#f2fffa"/><circle cx="327.4" cy="246.8" r="3.45" fill="#f2fffa"/><circle cx="326.7" cy="253.5" r="3.60" fill="#f2fffa"/><circle cx="326" cy="260.2" r="3.60" fill="#f2fffa"/><circle cx="307.7" cy="434.7" r="3.60" fill="#f2fffa"/><circle cx="307" cy="441.4" r="3.60" fill="#c0a8ff"/><circle cx="306.3" cy="448.2" r="3.49" fill="#f2fffa"/><circle cx="305.6" cy="454.9" r="3.19" fill="#c0a8ff"/><circle cx="304.8" cy="461.6" r="2.89" fill="#f2fffa"/><circle cx="304.1" cy="468.3" r="2.58" fill="#ff9fc0"/><circle cx="303.4" cy="475" r="2.30" fill="#f2fffa"/><circle cx="336.3" cy="227.3" r="2.34" fill="#f2fffa"/><circle cx="335.6" cy="234" r="2.64" fill="#f2fffa"/><circle cx="334.8" cy="240.8" r="2.94" fill="#f2fffa"/><circle cx="334.1" cy="247.5" r="3.22" fill="#d0ff90"/><circle cx="333.4" cy="254.2" r="3.50" fill="#a9b6ff"/><circle cx="332.7" cy="260.9" r="3.60" fill="#f2fffa"/><circle cx="332" cy="267.6" r="3.60" fill="#ff9fc0"/><circle cx="315.1" cy="428.7" r="3.60" fill="#f2fffa"/><circle cx="314.4" cy="435.4" r="3.60" fill="#f2fffa"/><circle cx="313.7" cy="442.1" r="3.54" fill="#f2fffa"/><circle cx="313" cy="448.9" r="3.26" fill="#f2fffa"/><circle cx="312.3" cy="455.6" r="2.98" fill="#f2fffa"/><circle cx="311.6" cy="462.3" r="2.68" fill="#ffaf90"/><circle cx="310.9" cy="469" r="2.38" fill="#f2fffa"/><circle cx="342.3" cy="234.8" r="2.42" fill="#f2fffa"/><circle cx="341.6" cy="241.5" r="2.71" fill="#f2fffa"/><circle cx="340.9" cy="248.2" r="2.99" fill="#d0ff90"/><circle cx="340.1" cy="254.9" r="3.26" fill="#ffaf90"/><circle cx="339.4" cy="261.6" r="3.52" fill="#f2fffa"/><circle cx="338.7" cy="268.3" r="3.60" fill="#f2fffa"/><circle cx="338" cy="275" r="3.60" fill="#f2fffa"/><circle cx="322.5" cy="422.7" r="3.60" fill="#f2fffa"/><circle cx="321.8" cy="429.4" r="3.60" fill="#f2fffa"/><circle cx="321.1" cy="436.1" r="3.56" fill="#f2fffa"/><circle cx="320.4" cy="442.9" r="3.30" fill="#f2fffa"/><circle cx="319.7" cy="449.6" r="3.03" fill="#ffaf90"/><circle cx="319" cy="456.3" r="2.75" fill="#f2fffa"/><circle cx="318.3" cy="463" r="2.46" fill="#f2fffa"/><circle cx="317.6" cy="469.7" r="2.30" fill="#f2fffa"/><circle cx="349" cy="235.5" r="2.30" fill="#f2fffa"/><circle cx="348.3" cy="242.2" r="2.47" fill="#f2fffa"/><circle cx="347.6" cy="248.9" r="2.74" fill="#a9b6ff"/><circle cx="346.9" cy="255.6" r="3.00" fill="#f2fffa"/><circle cx="346.2" cy="262.3" r="3.26" fill="#f2fffa"/><circle cx="345.4" cy="269" r="3.50" fill="#f2fffa"/><circle cx="344.7" cy="275.7" r="3.60" fill="#8dffb0"/><circle cx="344" cy="282.4" r="3.60" fill="#f2fffa"/><circle cx="329.9" cy="416.7" r="3.60" fill="#f2fffa"/><circle cx="329.2" cy="423.4" r="3.60" fill="#f2fffa"/><circle cx="328.5" cy="430.1" r="3.53" fill="#f2fffa"/><circle cx="327.8" cy="436.8" r="3.29" fill="#f2fffa"/><circle cx="327.1" cy="443.6" r="3.04" fill="#f2fffa"/><circle cx="326.4" cy="450.3" r="2.78" fill="#a9b6ff"/><circle cx="325.7" cy="457" r="2.51" fill="#80fff0"/><circle cx="325" cy="463.7" r="2.30" fill="#f2fffa"/><circle cx="355" cy="242.9" r="2.30" fill="#f2fffa"/><circle cx="354.3" cy="249.6" r="2.49" fill="#f2fffa"/><circle cx="353.6" cy="256.3" r="2.74" fill="#f2fffa"/><circle cx="352.9" cy="263" r="2.98" fill="#c0a8ff"/><circle cx="352.2" cy="269.7" r="3.22" fill="#f2fffa"/><circle cx="351.5" cy="276.4" r="3.44" fill="#f2fffa"/><circle cx="350.8" cy="283.2" r="3.60" fill="#f2fffa"/><circle cx="350" cy="289.9" r="3.60" fill="#f2fffa"/><circle cx="349.3" cy="296.6" r="3.60" fill="#f2fffa"/><circle cx="338.1" cy="404" r="3.60" fill="#f2fffa"/><circle cx="337.3" cy="410.7" r="3.60" fill="#f2fffa"/><circle cx="336.6" cy="417.4" r="3.60" fill="#f2fffa"/><circle cx="335.9" cy="424.1" r="3.47" fill="#8dffb0"/><circle cx="335.2" cy="430.8" r="3.25" fill="#c0a8ff"/><circle cx="334.5" cy="437.6" r="3.02" fill="#f2fffa"/><circle cx="333.8" cy="444.3" r="2.77" fill="#f2fffa"/><circle cx="333.1" cy="451" r="2.52" fill="#f2fffa"/><circle cx="332.4" cy="457.7" r="2.30" fill="#f2fffa"/><circle cx="361" cy="250.3" r="2.30" fill="#f2fffa"/><circle cx="360.3" cy="257" r="2.47" fill="#f2fffa"/><circle cx="359.6" cy="263.7" r="2.70" fill="#f2fffa"/><circle cx="358.9" cy="270.4" r="2.93" fill="#f2fffa"/><circle cx="358.2" cy="277.1" r="3.14" fill="#f2fffa"/><circle cx="357.5" cy="283.9" r="3.34" fill="#f2fffa"/><circle cx="356.8" cy="290.6" r="3.52" fill="#f2fffa"/><circle cx="356.1" cy="297.3" r="3.60" fill="#f2fffa"/><circle cx="355.3" cy="304" r="3.60" fill="#f2fffa"/><circle cx="354.6" cy="310.7" r="3.60" fill="#f2fffa"/><circle cx="353.9" cy="317.4" r="3.60" fill="#f2fffa"/><circle cx="346.9" cy="384.6" r="3.60" fill="#c0a8ff"/><circle cx="346.2" cy="391.3" r="3.60" fill="#f2fffa"/><circle cx="345.5" cy="398" r="3.60" fill="#f2fffa"/><circle cx="344.8" cy="404.7" r="3.60" fill="#80fff0"/><circle cx="344.1" cy="411.4" r="3.55" fill="#f2fffa"/><circle cx="343.4" cy="418.1" r="3.36" fill="#ffaf90"/><circle cx="342.6" cy="424.8" r="3.17" fill="#d0ff90"/><circle cx="341.9" cy="431.5" r="2.96" fill="#f2fffa"/><circle cx="341.2" cy="438.3" r="2.73" fill="#f2fffa"/><circle cx="340.5" cy="445" r="2.50" fill="#f2fffa"/><circle cx="339.8" cy="451.7" r="2.30" fill="#f2fffa"/><circle cx="367" cy="257.7" r="2.30" fill="#f2fffa"/><circle cx="366.3" cy="264.4" r="2.41" fill="#f2fffa"/><circle cx="365.6" cy="271.1" r="2.63" fill="#f2fffa"/><circle cx="364.9" cy="277.9" r="2.83" fill="#f2fffa"/><circle cx="364.2" cy="284.6" r="3.02" fill="#f2fffa"/><circle cx="363.5" cy="291.3" r="3.20" fill="#c0a8ff"/><circle cx="362.8" cy="298" r="3.37" fill="#f2fffa"/><circle cx="362.1" cy="304.7" r="3.51" fill="#f2fffa"/><circle cx="361.4" cy="311.4" r="3.60" fill="#f2fffa"/><circle cx="360.6" cy="318.1" r="3.60" fill="#f2fffa"/><circle cx="359.9" cy="324.8" r="3.60" fill="#f2fffa"/><circle cx="359.2" cy="331.6" r="3.60" fill="#f2fffa"/><circle cx="358.5" cy="338.3" r="3.60" fill="#f2fffa"/><circle cx="357.8" cy="345" r="3.60" fill="#f2fffa"/><circle cx="357.1" cy="351.7" r="3.60" fill="#ff9fc0"/><circle cx="356.4" cy="358.4" r="3.60" fill="#f2fffa"/><circle cx="355.7" cy="365.1" r="3.60" fill="#f2fffa"/><circle cx="355" cy="371.8" r="3.60" fill="#f2fffa"/><circle cx="354.3" cy="378.5" r="3.60" fill="#f2fffa"/><circle cx="353.6" cy="385.3" r="3.60" fill="#f2fffa"/><circle cx="352.9" cy="392" r="3.60" fill="#f2fffa"/><circle cx="352.2" cy="398.7" r="3.53" fill="#f2fffa"/><circle cx="351.5" cy="405.4" r="3.39" fill="#80fff0"/><circle cx="350.8" cy="412.1" r="3.23" fill="#f2fffa"/><circle cx="350.1" cy="418.8" r="3.05" fill="#f2fffa"/><circle cx="349.4" cy="425.5" r="2.86" fill="#f2fffa"/><circle cx="348.7" cy="432.3" r="2.66" fill="#f2fffa"/><circle cx="347.9" cy="439" r="2.44" fill="#f2fffa"/><circle cx="347.2" cy="445.7" r="2.30" fill="#a9b6ff"/><circle cx="372.3" cy="271.8" r="2.33" fill="#f2fffa"/><circle cx="371.6" cy="278.6" r="2.52" fill="#f2fffa"/><circle cx="370.9" cy="285.3" r="2.71" fill="#f2fffa"/><circle cx="370.2" cy="292" r="2.88" fill="#f2fffa"/><circle cx="369.5" cy="298.7" r="3.03" fill="#f2fffa"/><circle cx="368.8" cy="305.4" r="3.17" fill="#f2fffa"/><circle cx="368.1" cy="312.1" r="3.30" fill="#ff9fc0"/><circle cx="367.4" cy="318.8" r="3.40" fill="#f2fffa"/><circle cx="366.7" cy="325.5" r="3.49" fill="#f2fffa"/><circle cx="366" cy="332.3" r="3.56" fill="#f2fffa"/><circle cx="365.2" cy="339" r="3.60" fill="#f2fffa"/><circle cx="364.5" cy="345.7" r="3.60" fill="#f2fffa"/><circle cx="363.8" cy="352.4" r="3.60" fill="#f2fffa"/><circle cx="363.1" cy="359.1" r="3.60" fill="#d0ff90"/><circle cx="362.4" cy="365.8" r="3.60" fill="#f2fffa"/><circle cx="361.7" cy="372.5" r="3.57" fill="#f2fffa"/><circle cx="361" cy="379.3" r="3.50" fill="#f2fffa"/><circle cx="360.3" cy="386" r="3.42" fill="#f2fffa"/><circle cx="359.6" cy="392.7" r="3.31" fill="#d0ff90"/><circle cx="358.9" cy="399.4" r="3.19" fill="#f2fffa"/><circle cx="358.2" cy="406.1" r="3.05" fill="#f2fffa"/><circle cx="357.5" cy="412.8" r="2.90" fill="#f2fffa"/><circle cx="356.8" cy="419.5" r="2.73" fill="#f2fffa"/><circle cx="356.1" cy="426.2" r="2.55" fill="#f2fffa"/><circle cx="355.4" cy="433" r="2.35" fill="#f2fffa"/><circle cx="378.3" cy="279.3" r="2.30" fill="#f2fffa"/><circle cx="377.6" cy="286" r="2.38" fill="#c0a8ff"/><circle cx="376.9" cy="292.7" r="2.55" fill="#80fff0"/><circle cx="376.2" cy="299.4" r="2.70" fill="#f2fffa"/><circle cx="375.5" cy="306.1" r="2.83" fill="#f2fffa"/><circle cx="374.8" cy="312.8" r="2.95" fill="#f2fffa"/><circle cx="374.1" cy="319.5" r="3.05" fill="#f2fffa"/><circle cx="373.4" cy="326.3" r="3.14" fill="#f2fffa"/><circle cx="372.7" cy="333" r="3.20" fill="#80fff0"/><circle cx="372" cy="339.7" r="3.25" fill="#ffaf90"/><circle cx="371.3" cy="346.4" r="3.28" fill="#f2fffa"/><circle cx="370.5" cy="353.1" r="3.29" fill="#f2fffa"/><circle cx="369.8" cy="359.8" r="3.28" fill="#f2fffa"/><circle cx="369.1" cy="366.5" r="3.26" fill="#a9b6ff"/><circle cx="368.4" cy="373.2" r="3.21" fill="#f2fffa"/><circle cx="367.7" cy="380" r="3.15" fill="#f2fffa"/><circle cx="367" cy="386.7" r="3.06" fill="#f2fffa"/><circle cx="366.3" cy="393.4" r="2.96" fill="#a9b6ff"/><circle cx="365.6" cy="400.1" r="2.85" fill="#f2fffa"/><circle cx="364.9" cy="406.8" r="2.72" fill="#f2fffa"/><circle cx="364.2" cy="413.5" r="2.57" fill="#f2fffa"/><circle cx="363.5" cy="420.2" r="2.41" fill="#f2fffa"/><circle cx="362.8" cy="426.9" r="2.30" fill="#f2fffa"/><circle cx="383.6" cy="293.4" r="2.30" fill="#a9b6ff"/><circle cx="382.9" cy="300.1" r="2.36" fill="#f2fffa"/><circle cx="382.2" cy="306.8" r="2.49" fill="#f2fffa"/><circle cx="381.5" cy="313.5" r="2.60" fill="#f2fffa"/><circle cx="380.8" cy="320.2" r="2.70" fill="#f2fffa"/><circle cx="380.1" cy="327" r="2.78" fill="#f2fffa"/><circle cx="379.4" cy="333.7" r="2.84" fill="#f2fffa"/><circle cx="378.7" cy="340.4" r="2.89" fill="#f2fffa"/><circle cx="378" cy="347.1" r="2.91" fill="#d0ff90"/><circle cx="377.3" cy="353.8" r="2.93" fill="#f2fffa"/><circle cx="376.6" cy="360.5" r="2.92" fill="#f2fffa"/><circle cx="375.8" cy="367.2" r="2.89" fill="#d0ff90"/><circle cx="375.1" cy="374" r="2.85" fill="#f2fffa"/><circle cx="374.4" cy="380.7" r="2.79" fill="#f2fffa"/><circle cx="373.7" cy="387.4" r="2.71" fill="#ff9fc0"/><circle cx="373" cy="394.1" r="2.61" fill="#f2fffa"/><circle cx="372.3" cy="400.8" r="2.50" fill="#f2fffa"/><circle cx="371.6" cy="407.5" r="2.38" fill="#f2fffa"/><circle cx="370.9" cy="414.2" r="2.30" fill="#a9b6ff"/><circle cx="388.2" cy="314.2" r="2.30" fill="#f2fffa"/><circle cx="387.5" cy="321" r="2.34" fill="#f2fffa"/><circle cx="386.8" cy="327.7" r="2.42" fill="#f2fffa"/><circle cx="386.1" cy="334.4" r="2.48" fill="#a9b6ff"/><circle cx="385.4" cy="341.1" r="2.52" fill="#f2fffa"/><circle cx="384.7" cy="347.8" r="2.55" fill="#f2fffa"/><circle cx="384" cy="354.5" r="2.56" fill="#f2fffa"/><circle cx="383.3" cy="361.2" r="2.55" fill="#f2fffa"/><circle cx="382.6" cy="367.9" r="2.53" fill="#f2fffa"/><circle cx="381.9" cy="374.7" r="2.49" fill="#f2fffa"/><circle cx="381.2" cy="381.4" r="2.43" fill="#f2fffa"/><circle cx="380.4" cy="388.1" r="2.35" fill="#f2fffa"/><circle cx="379.7" cy="394.8" r="2.30" fill="#f2fffa"/></g>
<ellipse cx="243.0" cy="339.7" rx="149.8" ry="152.2" fill="url(#bandglow)"/>
<g opacity="0.8"><circle cx="122" cy="296.4" r="1.78" fill="#4f9a96"/><circle cx="121.3" cy="303.2" r="1.65" fill="#4f9a96"/><circle cx="120.6" cy="309.9" r="1.55" fill="#4f9a96"/><circle cx="119.9" cy="316.6" r="1.49" fill="#4f9a96"/><circle cx="119.2" cy="323.3" r="1.45" fill="#4f9a96"/><circle cx="118.5" cy="330" r="1.45" fill="#4f9a96"/><circle cx="117.8" cy="336.7" r="1.48" fill="#4f9a96"/><circle cx="117" cy="343.4" r="1.54" fill="#4f9a96"/><circle cx="116.3" cy="350.1" r="1.64" fill="#4f9a96"/><circle cx="115.6" cy="356.9" r="1.76" fill="#4f9a96"/><circle cx="130.8" cy="277" r="1.79" fill="#4f9a96"/><circle cx="130.1" cy="283.7" r="1.57" fill="#4f9a96"/><circle cx="129.4" cy="290.4" r="1.37" fill="#4f9a96"/><circle cx="128.7" cy="297.1" r="1.20" fill="#4f9a96"/><circle cx="128" cy="303.9" r="1.07" fill="#4f9a96"/><circle cx="127.3" cy="310.6" r="0.96" fill="#4f9a96"/><circle cx="126.6" cy="317.3" r="0.89" fill="#4f9a96"/><circle cx="125.9" cy="324" r="0.86" fill="#4f9a96"/><circle cx="125.2" cy="330.7" r="0.85" fill="#4f9a96"/><circle cx="124.5" cy="337.4" r="0.89" fill="#4f9a96"/><circle cx="123.8" cy="344.1" r="0.95" fill="#4f9a96"/><circle cx="123.1" cy="350.8" r="1.05" fill="#4f9a96"/><circle cx="122.3" cy="357.6" r="1.18" fill="#4f9a96"/><circle cx="121.6" cy="364.3" r="1.35" fill="#4f9a96"/><circle cx="120.9" cy="371" r="1.54" fill="#4f9a96"/><circle cx="120.2" cy="377.7" r="1.76" fill="#4f9a96"/><circle cx="138.9" cy="264.3" r="1.80" fill="#4f9a96"/><circle cx="138.2" cy="271" r="1.51" fill="#4f9a96"/><circle cx="137.5" cy="277.7" r="1.25" fill="#4f9a96"/><circle cx="136.8" cy="284.4" r="1.01" fill="#4f9a96"/><circle cx="136.1" cy="291.1" r="0.81" fill="#4f9a96"/><circle cx="135.4" cy="297.8" r="0.63" fill="#4f9a96"/><circle cx="134.7" cy="304.6" r="0.48" fill="#4f9a96"/><circle cx="134" cy="311.3" r="0.37" fill="#4f9a96"/><circle cx="130.5" cy="344.8" r="0.36" fill="#4f9a96"/><circle cx="129.8" cy="351.6" r="0.47" fill="#4f9a96"/><circle cx="129.1" cy="358.3" r="0.61" fill="#4f9a96"/><circle cx="128.4" cy="365" r="0.78" fill="#4f9a96"/><circle cx="127.6" cy="371.7" r="0.98" fill="#4f9a96"/><circle cx="126.9" cy="378.4" r="1.22" fill="#4f9a96"/><circle cx="126.2" cy="385.1" r="1.48" fill="#4f9a96"/><circle cx="125.5" cy="391.8" r="1.76" fill="#4f9a96"/><circle cx="146.4" cy="258.3" r="1.62" fill="#4f9a96"/><circle cx="145.7" cy="265" r="1.30" fill="#4f9a96"/><circle cx="144.9" cy="271.7" r="0.99" fill="#4f9a96"/><circle cx="144.2" cy="278.4" r="0.71" fill="#4f9a96"/><circle cx="143.5" cy="285.1" r="0.46" fill="#4f9a96"/><circle cx="134.4" cy="372.4" r="0.43" fill="#4f9a96"/><circle cx="133.7" cy="379.1" r="0.68" fill="#4f9a96"/><circle cx="133" cy="385.8" r="0.95" fill="#4f9a96"/><circle cx="132.2" cy="392.5" r="1.25" fill="#4f9a96"/><circle cx="131.5" cy="399.3" r="1.58" fill="#4f9a96"/><circle cx="153.8" cy="252.3" r="1.50" fill="#4f9a96"/><circle cx="153.1" cy="259" r="1.14" fill="#4f9a96"/><circle cx="152.4" cy="265.7" r="0.80" fill="#4f9a96"/><circle cx="151.7" cy="272.4" r="0.48" fill="#4f9a96"/><circle cx="139.7" cy="386.5" r="0.43" fill="#4f9a96"/><circle cx="139" cy="393.2" r="0.75" fill="#4f9a96"/><circle cx="138.3" cy="400" r="1.09" fill="#4f9a96"/><circle cx="137.5" cy="406.7" r="1.45" fill="#4f9a96"/><circle cx="136.8" cy="413.4" r="1.83" fill="#4f9a96"/><circle cx="161.2" cy="246.3" r="1.45" fill="#4f9a96"/><circle cx="160.5" cy="253" r="1.05" fill="#4f9a96"/><circle cx="159.8" cy="259.7" r="0.67" fill="#4f9a96"/><circle cx="145" cy="400.7" r="0.62" fill="#4f9a96"/><circle cx="144.3" cy="407.4" r="0.99" fill="#4f9a96"/><circle cx="143.6" cy="414.1" r="1.39" fill="#4f9a96"/><circle cx="142.8" cy="420.8" r="1.81" fill="#4f9a96"/><circle cx="168.6" cy="240.3" r="1.46" fill="#4f9a96"/><circle cx="167.9" cy="247" r="1.02" fill="#4f9a96"/><circle cx="167.2" cy="253.7" r="0.61" fill="#4f9a96"/><circle cx="151" cy="408.1" r="0.55" fill="#4f9a96"/><circle cx="150.3" cy="414.8" r="0.97" fill="#4f9a96"/><circle cx="149.6" cy="421.5" r="1.40" fill="#4f9a96"/><circle cx="148.9" cy="428.2" r="1.84" fill="#4f9a96"/><circle cx="176" cy="234.2" r="1.53" fill="#4f9a96"/><circle cx="175.3" cy="241" r="1.07" fill="#4f9a96"/><circle cx="174.6" cy="247.7" r="0.62" fill="#4f9a96"/><circle cx="157" cy="415.5" r="0.56" fill="#4f9a96"/><circle cx="156.3" cy="422.2" r="1.00" fill="#4f9a96"/><circle cx="155.6" cy="428.9" r="1.47" fill="#4f9a96"/><circle cx="183.4" cy="228.2" r="1.67" fill="#4f9a96"/><circle cx="182.7" cy="235" r="1.18" fill="#4f9a96"/><circle cx="182" cy="241.7" r="0.70" fill="#4f9a96"/><circle cx="163" cy="422.9" r="0.63" fill="#4f9a96"/><circle cx="162.3" cy="429.6" r="1.11" fill="#4f9a96"/><circle cx="161.6" cy="436.3" r="1.60" fill="#4f9a96"/><circle cx="190.2" cy="228.9" r="1.35" fill="#4f9a96"/><circle cx="189.5" cy="235.7" r="0.84" fill="#4f9a96"/><circle cx="169" cy="430.3" r="0.78" fill="#4f9a96"/><circle cx="168.3" cy="437" r="1.28" fill="#4f9a96"/><circle cx="167.6" cy="443.8" r="1.80" fill="#4f9a96"/><circle cx="197.6" cy="222.9" r="1.59" fill="#4f9a96"/><circle cx="196.9" cy="229.7" r="1.06" fill="#4f9a96"/><circle cx="196.2" cy="236.4" r="0.54" fill="#4f9a96"/><circle cx="175.7" cy="431" r="0.47" fill="#4f9a96"/><circle cx="175" cy="437.8" r="0.99" fill="#4f9a96"/><circle cx="174.3" cy="444.5" r="1.52" fill="#4f9a96"/><circle cx="204.3" cy="223.6" r="1.33" fill="#4f9a96"/><circle cx="203.6" cy="230.4" r="0.79" fill="#4f9a96"/><circle cx="181.7" cy="438.5" r="0.72" fill="#4f9a96"/><circle cx="181" cy="445.2" r="1.26" fill="#4f9a96"/><circle cx="180.3" cy="451.9" r="1.81" fill="#4f9a96"/><circle cx="211.7" cy="217.6" r="1.67" fill="#4f9a96"/><circle cx="211" cy="224.3" r="1.11" fill="#4f9a96"/><circle cx="210.3" cy="231.1" r="0.55" fill="#4f9a96"/><circle cx="188.4" cy="439.2" r="0.48" fill="#4f9a96"/><circle cx="187.7" cy="445.9" r="1.03" fill="#4f9a96"/><circle cx="187" cy="452.6" r="1.59" fill="#4f9a96"/><circle cx="218.4" cy="218.3" r="1.48" fill="#4f9a96"/><circle cx="217.7" cy="225.1" r="0.91" fill="#4f9a96"/><circle cx="194.4" cy="446.6" r="0.84" fill="#4f9a96"/><circle cx="193.7" cy="453.3" r="1.40" fill="#4f9a96"/><circle cx="225.1" cy="219" r="1.33" fill="#4f9a96"/><circle cx="224.4" cy="225.8" r="0.75" fill="#4f9a96"/><circle cx="201.1" cy="447.3" r="0.67" fill="#4f9a96"/><circle cx="200.4" cy="454" r="1.25" fill="#4f9a96"/><circle cx="199.7" cy="460.7" r="1.83" fill="#4f9a96"/><circle cx="232.6" cy="213" r="1.79" fill="#4f9a96"/><circle cx="231.9" cy="219.8" r="1.20" fill="#4f9a96"/><circle cx="231.1" cy="226.5" r="0.62" fill="#4f9a96"/><circle cx="207.9" cy="448" r="0.54" fill="#4f9a96"/><circle cx="207.2" cy="454.7" r="1.12" fill="#4f9a96"/><circle cx="206.5" cy="461.4" r="1.71" fill="#4f9a96"/><circle cx="239.3" cy="213.7" r="1.70" fill="#4f9a96"/><circle cx="238.6" cy="220.5" r="1.11" fill="#4f9a96"/><circle cx="237.9" cy="227.2" r="0.52" fill="#4f9a96"/><circle cx="214.6" cy="448.7" r="0.44" fill="#4f9a96"/><circle cx="213.9" cy="455.4" r="1.03" fill="#4f9a96"/><circle cx="213.2" cy="462.1" r="1.62" fill="#4f9a96"/><circle cx="246" cy="214.5" r="1.64" fill="#4f9a96"/><circle cx="245.3" cy="221.2" r="1.05" fill="#4f9a96"/><circle cx="244.6" cy="227.9" r="0.45" fill="#4f9a96"/><circle cx="221.3" cy="449.4" r="0.37" fill="#4f9a96"/><circle cx="220.6" cy="456.1" r="0.97" fill="#4f9a96"/><circle cx="219.9" cy="462.8" r="1.56" fill="#4f9a96"/><circle cx="252.7" cy="215.2" r="1.62" fill="#4f9a96"/><circle cx="252" cy="221.9" r="1.02" fill="#4f9a96"/><circle cx="251.3" cy="228.6" r="0.42" fill="#4f9a96"/><circle cx="227.3" cy="456.8" r="0.94" fill="#4f9a96"/><circle cx="226.6" cy="463.5" r="1.54" fill="#4f9a96"/><circle cx="259.4" cy="215.9" r="1.62" fill="#4f9a96"/><circle cx="258.7" cy="222.6" r="1.03" fill="#4f9a96"/><circle cx="258" cy="229.3" r="0.43" fill="#4f9a96"/><circle cx="234.7" cy="450.8" r="0.35" fill="#4f9a96"/><circle cx="234" cy="457.5" r="0.95" fill="#4f9a96"/><circle cx="233.3" cy="464.2" r="1.54" fill="#4f9a96"/><circle cx="266.1" cy="216.6" r="1.66" fill="#4f9a96"/><circle cx="265.4" cy="223.3" r="1.07" fill="#4f9a96"/><circle cx="264.7" cy="230" r="0.48" fill="#4f9a96"/><circle cx="241.4" cy="451.5" r="0.40" fill="#4f9a96"/><circle cx="240.7" cy="458.2" r="0.99" fill="#4f9a96"/><circle cx="240" cy="464.9" r="1.58" fill="#4f9a96"/><circle cx="272.8" cy="217.3" r="1.73" fill="#4f9a96"/><circle cx="272.1" cy="224" r="1.14" fill="#4f9a96"/><circle cx="271.4" cy="230.7" r="0.55" fill="#4f9a96"/><circle cx="248.1" cy="452.2" r="0.48" fill="#4f9a96"/><circle cx="247.4" cy="458.9" r="1.06" fill="#4f9a96"/><circle cx="246.7" cy="465.7" r="1.65" fill="#4f9a96"/><circle cx="279.5" cy="218" r="1.83" fill="#4f9a96"/><circle cx="278.8" cy="224.7" r="1.25" fill="#4f9a96"/><circle cx="278.1" cy="231.4" r="0.67" fill="#4f9a96"/><circle cx="254.9" cy="452.9" r="0.59" fill="#4f9a96"/><circle cx="254.1" cy="459.6" r="1.17" fill="#4f9a96"/><circle cx="253.4" cy="466.4" r="1.76" fill="#4f9a96"/><circle cx="285.6" cy="225.4" r="1.39" fill="#4f9a96"/><circle cx="284.9" cy="232.1" r="0.82" fill="#4f9a96"/><circle cx="261.6" cy="453.6" r="0.74" fill="#4f9a96"/><circle cx="260.9" cy="460.4" r="1.31" fill="#4f9a96"/><circle cx="292.3" cy="226.1" r="1.56" fill="#4f9a96"/><circle cx="291.6" cy="232.8" r="0.99" fill="#4f9a96"/><circle cx="290.9" cy="239.5" r="0.43" fill="#4f9a96"/><circle cx="269" cy="447.6" r="0.36" fill="#4f9a96"/><circle cx="268.3" cy="454.3" r="0.92" fill="#4f9a96"/><circle cx="267.6" cy="461.1" r="1.48" fill="#4f9a96"/><circle cx="299" cy="226.8" r="1.76" fill="#4f9a96"/><circle cx="298.3" cy="233.5" r="1.20" fill="#4f9a96"/><circle cx="297.6" cy="240.2" r="0.65" fill="#4f9a96"/><circle cx="275.7" cy="448.3" r="0.58" fill="#4f9a96"/><circle cx="275" cy="455.1" r="1.13" fill="#4f9a96"/><circle cx="274.3" cy="461.8" r="1.68" fill="#4f9a96"/><circle cx="305" cy="234.2" r="1.44" fill="#4f9a96"/><circle cx="304.3" cy="240.9" r="0.90" fill="#4f9a96"/><circle cx="303.6" cy="247.7" r="0.37" fill="#4f9a96"/><circle cx="282.4" cy="449" r="0.83" fill="#4f9a96"/><circle cx="281.7" cy="455.8" r="1.37" fill="#4f9a96"/><circle cx="311.7" cy="234.9" r="1.71" fill="#4f9a96"/><circle cx="311" cy="241.6" r="1.18" fill="#4f9a96"/><circle cx="310.3" cy="248.4" r="0.67" fill="#4f9a96"/><circle cx="289.8" cy="443" r="0.60" fill="#4f9a96"/><circle cx="289.1" cy="449.7" r="1.11" fill="#4f9a96"/><circle cx="288.4" cy="456.5" r="1.63" fill="#4f9a96"/><circle cx="317.7" cy="242.4" r="1.49" fill="#4f9a96"/><circle cx="317" cy="249.1" r="0.98" fill="#4f9a96"/><circle cx="316.3" cy="255.8" r="0.49" fill="#4f9a96"/><circle cx="297.2" cy="437" r="0.43" fill="#4f9a96"/><circle cx="296.5" cy="443.7" r="0.92" fill="#4f9a96"/><circle cx="295.8" cy="450.5" r="1.42" fill="#4f9a96"/><circle cx="324.4" cy="243.1" r="1.81" fill="#4f9a96"/><circle cx="323.7" cy="249.8" r="1.33" fill="#4f9a96"/><circle cx="323" cy="256.5" r="0.85" fill="#4f9a96"/><circle cx="322.3" cy="263.2" r="0.39" fill="#4f9a96"/><circle cx="304" cy="437.7" r="0.79" fill="#4f9a96"/><circle cx="303.3" cy="444.4" r="1.26" fill="#4f9a96"/><circle cx="302.6" cy="451.2" r="1.75" fill="#4f9a96"/><circle cx="330.4" cy="250.5" r="1.69" fill="#4f9a96"/><circle cx="329.7" cy="257.2" r="1.23" fill="#4f9a96"/><circle cx="329" cy="263.9" r="0.79" fill="#4f9a96"/><circle cx="328.3" cy="270.6" r="0.36" fill="#4f9a96"/><circle cx="311.4" cy="431.7" r="0.73" fill="#4f9a96"/><circle cx="310.7" cy="438.4" r="1.17" fill="#4f9a96"/><circle cx="310" cy="445.2" r="1.63" fill="#4f9a96"/><circle cx="336.4" cy="257.9" r="1.63" fill="#4f9a96"/><circle cx="335.7" cy="264.6" r="1.20" fill="#4f9a96"/><circle cx="335" cy="271.3" r="0.79" fill="#4f9a96"/><circle cx="334.3" cy="278" r="0.40" fill="#4f9a96"/><circle cx="319.5" cy="419" r="0.35" fill="#4f9a96"/><circle cx="318.8" cy="425.7" r="0.74" fill="#4f9a96"/><circle cx="318.1" cy="432.4" r="1.15" fill="#4f9a96"/><circle cx="317.4" cy="439.1" r="1.57" fill="#4f9a96"/><circle cx="342.4" cy="265.3" r="1.64" fill="#4f9a96"/><circle cx="341.7" cy="272" r="1.24" fill="#4f9a96"/><circle cx="341" cy="278.7" r="0.87" fill="#4f9a96"/><circle cx="340.3" cy="285.5" r="0.52" fill="#4f9a96"/><circle cx="326.9" cy="413" r="0.47" fill="#4f9a96"/><circle cx="326.2" cy="419.7" r="0.82" fill="#4f9a96"/><circle cx="325.5" cy="426.4" r="1.19" fill="#4f9a96"/><circle cx="324.8" cy="433.1" r="1.58" fill="#4f9a96"/><circle cx="348.5" cy="272.7" r="1.70" fill="#4f9a96"/><circle cx="347.7" cy="279.4" r="1.35" fill="#4f9a96"/><circle cx="347" cy="286.2" r="1.01" fill="#4f9a96"/><circle cx="346.3" cy="292.9" r="0.70" fill="#4f9a96"/><circle cx="345.6" cy="299.6" r="0.41" fill="#4f9a96"/><circle cx="335" cy="400.3" r="0.38" fill="#4f9a96"/><circle cx="334.3" cy="407" r="0.66" fill="#4f9a96"/><circle cx="333.6" cy="413.7" r="0.97" fill="#4f9a96"/><circle cx="332.9" cy="420.4" r="1.30" fill="#4f9a96"/><circle cx="332.2" cy="427.1" r="1.65" fill="#4f9a96"/><circle cx="354.5" cy="280.1" r="1.84" fill="#4f9a96"/><circle cx="353.8" cy="286.9" r="1.51" fill="#4f9a96"/><circle cx="353" cy="293.6" r="1.22" fill="#4f9a96"/><circle cx="352.3" cy="300.3" r="0.94" fill="#4f9a96"/><circle cx="351.6" cy="307" r="0.70" fill="#4f9a96"/><circle cx="350.9" cy="313.7" r="0.49" fill="#4f9a96"/><circle cx="343.2" cy="387.6" r="0.46" fill="#4f9a96"/><circle cx="342.5" cy="394.3" r="0.67" fill="#4f9a96"/><circle cx="341.8" cy="401" r="0.91" fill="#4f9a96"/><circle cx="341.1" cy="407.7" r="1.18" fill="#4f9a96"/><circle cx="340.3" cy="414.4" r="1.47" fill="#4f9a96"/><circle cx="339.6" cy="421.1" r="1.79" fill="#4f9a96"/><circle cx="359.8" cy="294.3" r="1.74" fill="#4f9a96"/><circle cx="359.1" cy="301" r="1.48" fill="#4f9a96"/><circle cx="358.4" cy="307.7" r="1.25" fill="#4f9a96"/><circle cx="357.6" cy="314.4" r="1.05" fill="#4f9a96"/><circle cx="356.9" cy="321.1" r="0.88" fill="#4f9a96"/><circle cx="356.2" cy="327.8" r="0.74" fill="#4f9a96"/><circle cx="355.5" cy="334.6" r="0.63" fill="#4f9a96"/><circle cx="354.8" cy="341.3" r="0.56" fill="#4f9a96"/><circle cx="354.1" cy="348" r="0.52" fill="#4f9a96"/><circle cx="353.4" cy="354.7" r="0.52" fill="#4f9a96"/><circle cx="352.7" cy="361.4" r="0.55" fill="#4f9a96"/><circle cx="352" cy="368.1" r="0.62" fill="#4f9a96"/><circle cx="351.3" cy="374.8" r="0.72" fill="#4f9a96"/><circle cx="350.6" cy="381.6" r="0.86" fill="#4f9a96"/><circle cx="349.9" cy="388.3" r="1.02" fill="#4f9a96"/><circle cx="349.2" cy="395" r="1.22" fill="#4f9a96"/><circle cx="348.5" cy="401.7" r="1.45" fill="#4f9a96"/><circle cx="347.8" cy="408.4" r="1.71" fill="#4f9a96"/><circle cx="365.1" cy="308.4" r="1.81" fill="#4f9a96"/><circle cx="364.4" cy="315.1" r="1.62" fill="#4f9a96"/><circle cx="363.7" cy="321.8" r="1.45" fill="#4f9a96"/><circle cx="362.9" cy="328.6" r="1.32" fill="#4f9a96"/><circle cx="362.2" cy="335.3" r="1.22" fill="#4f9a96"/><circle cx="361.5" cy="342" r="1.15" fill="#4f9a96"/><circle cx="360.8" cy="348.7" r="1.11" fill="#4f9a96"/><circle cx="360.1" cy="355.4" r="1.11" fill="#4f9a96"/><circle cx="359.4" cy="362.1" r="1.14" fill="#4f9a96"/><circle cx="358.7" cy="368.8" r="1.21" fill="#4f9a96"/><circle cx="358" cy="375.5" r="1.30" fill="#4f9a96"/><circle cx="357.3" cy="382.3" r="1.43" fill="#4f9a96"/><circle cx="356.6" cy="389" r="1.59" fill="#4f9a96"/><circle cx="355.9" cy="395.7" r="1.78" fill="#4f9a96"/><circle cx="369" cy="336" r="1.81" fill="#4f9a96"/><circle cx="368.2" cy="342.7" r="1.74" fill="#4f9a96"/><circle cx="367.5" cy="349.4" r="1.71" fill="#4f9a96"/><circle cx="366.8" cy="356.1" r="1.71" fill="#4f9a96"/><circle cx="366.1" cy="362.8" r="1.74" fill="#4f9a96"/><circle cx="365.4" cy="369.5" r="1.80" fill="#4f9a96"/></g>
<ellipse cx="243.0" cy="339.7" rx="149.8" ry="152.2" fill="none" stroke="#2f6a6e" stroke-width="1"/>
<circle cx="241.5" cy="340.0" r="114.3" fill="none" stroke="#ffffff" stroke-width="11" filter="url(#blur4)"/>
<circle cx="241.5" cy="340.0" r="108.3" fill="url(#lensg)"/>
<circle cx="241.5" cy="340.0" r="106.3" fill="url(#lensshade)"/>
<clipPath id="gridclip"><circle cx="241.5" cy="340.0" r="103"/></clipPath>
<g clip-path="url(#gridclip)"><path d="M168.6,268.4 L174.1,266.8 L179.7,265.4 L185.5,264.1 L191.5,262.9 L197.5,261.9 L203.7,261 L209.9,260.2 L216.3,259.6 L222.7,259.1 L229.1,258.8 L235.6,258.6 L242.1,258.5 L248.5,258.6 L255,258.8 L261.4,259.1 L267.8,259.6 L274.2,260.2 L280.4,261 L286.6,261.9 L292.6,262.9 L298.6,264.1 L304.4,265.4 L310,266.8 L315.5,268.4 L315.5,268.4 L317.1,273.8 L318.5,279.4 L319.9,285.1 L321,291 L322.1,297 L323,303.1 L323.8,309.3 L324.4,315.5 L324.9,321.8 L325.2,328.2 L325.4,334.6 L325.5,341 L325.4,347.4 L325.2,353.8 L324.9,360.2 L324.4,366.5 L323.8,372.7 L323,378.9 L322.1,385 L321,391 L319.9,396.9 L318.5,402.6 L317.1,408.2 L315.5,413.6 L315.5,413.6 L310,415.2 L304.4,416.6 L298.6,417.9 L292.6,419.1 L286.6,420.1 L280.4,421 L274.2,421.8 L267.8,422.4 L261.4,422.9 L255,423.2 L248.5,423.4 L242.1,423.5 L235.6,423.4 L229.1,423.2 L222.7,422.9 L216.3,422.4 L209.9,421.8 L203.7,421 L197.5,420.1 L191.5,419.1 L185.5,417.9 L179.7,416.6 L174.1,415.2 L168.6,413.6 L168.6,413.6 L167,408.2 L165.6,402.6 L164.2,396.9 L163.1,391 L162,385 L161.1,378.9 L160.3,372.7 L159.7,366.5 L159.2,360.2 L158.9,353.8 L158.7,347.4 L158.6,341 L158.7,334.6 L158.9,328.2 L159.2,321.8 L159.7,315.5 L160.3,309.3 L161.1,303.1 L162,297 L163.1,291 L164.2,285.1 L165.6,279.4 L167,273.8 L168.6,268.4Z" fill="#bcd8e0"/><path d="M169.4,269.1 L180.6,266.1 L178.3,276.6 L166.7,279.1Z" fill="#ffffff"/><path d="M183,265.6 L194.9,263.3 L193.1,274.2 L180.8,276.1Z" fill="#ffffff"/><path d="M197.4,262.9 L209.8,261.3 L208.6,272.4 L195.7,273.8Z" fill="#ffffff"/><path d="M212.4,261.1 L225.1,260.1 L224.5,271.4 L211.3,272.2Z" fill="#ffffff"/><path d="M227.8,260 L240.7,259.6 L240.7,271 L227.2,271.2Z" fill="#ffffff"/><path d="M243.4,259.6 L256.3,260 L256.9,271.2 L243.4,271Z" fill="#ffffff"/><path d="M259,260.1 L271.7,261.1 L272.8,272.2 L259.6,271.4Z" fill="#ffffff"/><path d="M274.3,261.3 L286.7,262.9 L288.4,273.8 L275.5,272.4Z" fill="#ffffff"/><path d="M289.2,263.3 L301.1,265.6 L303.3,276.1 L291,274.2Z" fill="#ffffff"/><path d="M303.5,266.1 L314.7,269.1 L317.4,279.1 L305.8,276.6Z" fill="#ffffff"/><path d="M166.2,281.2 L177.9,278.8 L176.1,289.8 L164,291.8Z" fill="#ffffff"/><path d="M180.4,278.3 L192.8,276.5 L191.4,287.9 L178.6,289.5Z" fill="#ffffff"/><path d="M195.4,276.1 L208.4,274.8 L207.4,286.5 L194.1,287.6Z" fill="#ffffff"/><path d="M211.1,274.6 L224.4,273.7 L223.9,285.7 L210.2,286.3Z" fill="#ffffff"/><path d="M227.1,273.6 L240.7,273.4 L240.6,285.4 L226.7,285.6Z" fill="#ffffff"/><path d="M243.4,273.4 L257,273.6 L257.4,285.6 L243.5,285.4Z" fill="#ffffff"/><path d="M259.7,273.7 L273,274.6 L273.9,286.3 L260.2,285.7Z" fill="#ffffff"/><path d="M275.7,274.8 L288.7,276.1 L290,287.6 L276.7,286.5Z" fill="#ffffff"/><path d="M291.3,276.5 L303.7,278.3 L305.5,289.5 L292.7,287.9Z" fill="#ffffff"/><path d="M306.2,278.8 L317.9,281.2 L320.1,291.8 L308,289.8Z" fill="#ffffff"/><path d="M163.7,294 L175.7,292.1 L174.4,303.7 L162,305.1Z" fill="#ffffff"/><path d="M178.3,291.8 L191.1,290.3 L190.1,302.3 L177,303.4Z" fill="#ffffff"/><path d="M193.8,290.1 L207.2,289 L206.5,301.3 L192.8,302.1Z" fill="#ffffff"/><path d="M210,288.8 L223.8,288.2 L223.4,300.6 L209.3,301.1Z" fill="#ffffff"/><path d="M226.6,288.1 L240.6,287.9 L240.6,300.4 L226.3,300.6Z" fill="#ffffff"/><path d="M243.5,287.9 L257.5,288.1 L257.8,300.6 L243.5,300.4Z" fill="#ffffff"/><path d="M260.3,288.2 L274.1,288.8 L274.8,301.1 L260.7,300.6Z" fill="#ffffff"/><path d="M276.9,289 L290.3,290.1 L291.3,302.1 L277.6,301.3Z" fill="#ffffff"/><path d="M293,290.3 L305.8,291.8 L307.1,303.4 L294,302.3Z" fill="#ffffff"/><path d="M308.4,292.1 L320.4,294 L322.1,305.1 L309.7,303.7Z" fill="#ffffff"/><path d="M161.8,307.4 L174.1,306.1 L173.2,317.9 L160.7,318.8Z" fill="#ffffff"/><path d="M176.7,305.8 L189.9,304.8 L189.2,317.1 L175.9,317.8Z" fill="#ffffff"/><path d="M192.6,304.6 L206.4,303.8 L205.9,316.4 L192,316.9Z" fill="#ffffff"/><path d="M209.2,303.7 L223.3,303.2 L223.1,316.1 L208.8,316.4Z" fill="#ffffff"/><path d="M226.3,303.2 L240.6,303 L240.6,315.9 L226.1,316Z" fill="#ffffff"/><path d="M243.5,303 L257.8,303.2 L258,316 L243.5,315.9Z" fill="#ffffff"/><path d="M260.8,303.2 L274.9,303.7 L275.3,316.4 L261,316.1Z" fill="#ffffff"/><path d="M277.7,303.8 L291.5,304.6 L292.1,316.9 L278.2,316.4Z" fill="#ffffff"/><path d="M294.2,304.8 L307.4,305.8 L308.2,317.8 L294.9,317.1Z" fill="#ffffff"/><path d="M310,306.1 L322.3,307.4 L323.4,318.8 L310.9,317.9Z" fill="#ffffff"/><path d="M160.5,321.2 L173.1,320.4 L172.6,332.4 L160,332.8Z" fill="#ffffff"/><path d="M175.7,320.2 L189.1,319.6 L188.7,332.1 L175.3,332.4Z" fill="#ffffff"/><path d="M191.9,319.5 L205.8,319.1 L205.6,331.9 L191.5,332.1Z" fill="#ffffff"/><path d="M208.7,319 L223.1,318.7 L222.9,331.8 L208.5,331.9Z" fill="#ffffff"/><path d="M226,318.7 L240.6,318.6 L240.5,331.7 L225.9,331.7Z" fill="#ffffff"/><path d="M243.5,318.6 L258.1,318.7 L258.2,331.7 L243.6,331.7Z" fill="#ffffff"/><path d="M261,318.7 L275.4,319 L275.6,331.9 L261.2,331.8Z" fill="#ffffff"/><path d="M278.3,319.1 L292.2,319.5 L292.6,332.1 L278.5,331.9Z" fill="#ffffff"/><path d="M295,319.6 L308.4,320.2 L308.8,332.4 L295.4,332.1Z" fill="#ffffff"/><path d="M311,320.4 L323.6,321.2 L324.1,332.8 L311.5,332.4Z" fill="#ffffff"/><path d="M160,349.2 L172.6,349.6 L173.1,361.6 L160.5,360.8Z" fill="#ffffff"/><path d="M175.3,349.6 L188.7,349.9 L189.1,362.4 L175.7,361.8Z" fill="#ffffff"/><path d="M191.5,349.9 L205.6,350.1 L205.8,362.9 L191.9,362.5Z" fill="#ffffff"/><path d="M208.5,350.1 L222.9,350.2 L223.1,363.3 L208.7,363Z" fill="#ffffff"/><path d="M225.9,350.3 L240.5,350.3 L240.6,363.4 L226,363.3Z" fill="#ffffff"/><path d="M243.6,350.3 L258.2,350.3 L258.1,363.3 L243.5,363.4Z" fill="#ffffff"/><path d="M261.2,350.2 L275.6,350.1 L275.4,363 L261,363.3Z" fill="#ffffff"/><path d="M278.5,350.1 L292.6,349.9 L292.2,362.5 L278.3,362.9Z" fill="#ffffff"/><path d="M295.4,349.9 L308.8,349.6 L308.4,361.8 L295,362.4Z" fill="#ffffff"/><path d="M311.5,349.6 L324.1,349.2 L323.6,360.8 L311,361.6Z" fill="#ffffff"/><path d="M160.7,363.2 L173.2,364.1 L174.1,375.9 L161.8,374.6Z" fill="#ffffff"/><path d="M175.9,364.2 L189.2,364.9 L189.9,377.2 L176.7,376.2Z" fill="#ffffff"/><path d="M192,365.1 L205.9,365.6 L206.4,378.2 L192.6,377.4Z" fill="#ffffff"/><path d="M208.8,365.6 L223.1,365.9 L223.3,378.8 L209.2,378.3Z" fill="#ffffff"/><path d="M226.1,366 L240.6,366.1 L240.6,379 L226.3,378.8Z" fill="#ffffff"/><path d="M243.5,366.1 L258,366 L257.8,378.8 L243.5,379Z" fill="#ffffff"/><path d="M261,365.9 L275.3,365.6 L274.9,378.3 L260.8,378.8Z" fill="#ffffff"/><path d="M278.2,365.6 L292.1,365.1 L291.5,377.4 L277.7,378.2Z" fill="#ffffff"/><path d="M294.9,364.9 L308.2,364.2 L307.4,376.2 L294.2,377.2Z" fill="#ffffff"/><path d="M310.9,364.1 L323.4,363.2 L322.3,374.6 L310,375.9Z" fill="#ffffff"/><path d="M162,376.9 L174.4,378.3 L175.7,389.9 L163.7,388Z" fill="#ffffff"/><path d="M177,378.6 L190.1,379.7 L191.1,391.7 L178.3,390.2Z" fill="#ffffff"/><path d="M192.8,379.9 L206.5,380.7 L207.2,393 L193.8,391.9Z" fill="#ffffff"/><path d="M209.3,380.9 L223.4,381.4 L223.8,393.8 L210,393.2Z" fill="#ffffff"/><path d="M226.3,381.4 L240.6,381.6 L240.6,394.1 L226.6,393.9Z" fill="#ffffff"/><path d="M243.5,381.6 L257.8,381.4 L257.5,393.9 L243.5,394.1Z" fill="#ffffff"/><path d="M260.7,381.4 L274.8,380.9 L274.1,393.2 L260.3,393.8Z" fill="#ffffff"/><path d="M277.6,380.7 L291.3,379.9 L290.3,391.9 L276.9,393Z" fill="#ffffff"/><path d="M294,379.7 L307.1,378.6 L305.8,390.2 L293,391.7Z" fill="#ffffff"/><path d="M309.7,378.3 L322.1,376.9 L320.4,388 L308.4,389.9Z" fill="#ffffff"/><path d="M164,390.2 L176.1,392.2 L177.9,403.2 L166.2,400.8Z" fill="#ffffff"/><path d="M178.6,392.5 L191.4,394.1 L192.8,405.5 L180.4,403.7Z" fill="#ffffff"/><path d="M194.1,394.4 L207.4,395.5 L208.4,407.2 L195.4,405.9Z" fill="#ffffff"/><path d="M210.2,395.7 L223.9,396.3 L224.4,408.3 L211.1,407.4Z" fill="#ffffff"/><path d="M226.7,396.4 L240.6,396.6 L240.7,408.6 L227.1,408.4Z" fill="#ffffff"/><path d="M243.5,396.6 L257.4,396.4 L257,408.4 L243.4,408.6Z" fill="#ffffff"/><path d="M260.2,396.3 L273.9,395.7 L273,407.4 L259.7,408.3Z" fill="#ffffff"/><path d="M276.7,395.5 L290,394.4 L288.7,405.9 L275.7,407.2Z" fill="#ffffff"/><path d="M292.7,394.1 L305.5,392.5 L303.7,403.7 L291.3,405.5Z" fill="#ffffff"/><path d="M308,392.2 L320.1,390.2 L317.9,400.8 L306.2,403.2Z" fill="#ffffff"/><path d="M166.7,402.9 L178.3,405.4 L180.6,415.9 L169.4,412.9Z" fill="#ffffff"/><path d="M180.8,405.9 L193.1,407.8 L194.9,418.7 L183,416.4Z" fill="#ffffff"/><path d="M195.7,408.2 L208.6,409.6 L209.8,420.7 L197.4,419.1Z" fill="#ffffff"/><path d="M211.3,409.8 L224.5,410.6 L225.1,421.9 L212.4,420.9Z" fill="#ffffff"/><path d="M227.2,410.8 L240.7,411 L240.7,422.4 L227.8,422Z" fill="#ffffff"/><path d="M243.4,411 L256.9,410.8 L256.3,422 L243.4,422.4Z" fill="#ffffff"/><path d="M259.6,410.6 L272.8,409.8 L271.7,420.9 L259,421.9Z" fill="#ffffff"/><path d="M275.5,409.6 L288.4,408.2 L286.7,419.1 L274.3,420.7Z" fill="#ffffff"/><path d="M291,407.8 L303.3,405.9 L301.1,416.4 L289.2,418.7Z" fill="#ffffff"/><path d="M305.8,405.4 L317.4,402.9 L314.7,412.9 L303.5,415.9Z" fill="#ffffff"/><path d="M158.7,334.3 L164.9,334.1 L171.3,334 L177.9,333.9 L184.6,333.8 L191.5,333.7 L198.5,333.6 L205.6,333.5 L212.8,333.5 L220,333.4 L227.3,333.4 L234.7,333.4 L242.1,333.4 L249.4,333.4 L256.8,333.4 L264.1,333.4 L271.3,333.5 L278.5,333.5 L285.6,333.6 L292.6,333.7 L299.5,333.8 L306.2,333.9 L312.8,334 L319.2,334.1 L325.4,334.3 L325.4,347.7 L319.2,347.9 L312.8,348 L306.2,348.1 L299.5,348.2 L292.6,348.3 L285.6,348.4 L278.5,348.5 L271.3,348.5 L264.1,348.6 L256.8,348.6 L249.4,348.6 L242.1,348.6 L234.7,348.6 L227.3,348.6 L220,348.6 L212.8,348.5 L205.6,348.5 L198.5,348.4 L191.5,348.3 L184.6,348.2 L177.9,348.1 L171.3,348 L164.9,347.9 L158.7,347.7Z" fill="#a684e6" filter="url(#blur1)"/><path d="M160.8,336.6 L171.5,336.4 L171.5,345.6 L160.8,345.4Z" fill="#9262da" filter="url(#blur1)"/><path d="M176.2,336.3 L187.6,336.2 L187.6,345.8 L176.2,345.7Z" fill="#9262da" filter="url(#blur1)"/><path d="M192.6,336.2 L204.4,336.1 L204.4,345.9 L192.6,345.8Z" fill="#9262da" filter="url(#blur1)"/><path d="M209.6,336.1 L221.8,336 L221.8,346 L209.6,345.9Z" fill="#9262da" filter="url(#blur1)"/><path d="M227,336 L239.4,336 L239.4,346 L227,346Z" fill="#9262da" filter="url(#blur1)"/><path d="M244.7,336 L257.1,336 L257.1,346 L244.7,346Z" fill="#9262da" filter="url(#blur1)"/><path d="M262.3,336 L274.5,336.1 L274.5,345.9 L262.3,346Z" fill="#9262da" filter="url(#blur1)"/><path d="M279.7,336.1 L291.5,336.2 L291.5,345.8 L279.7,345.9Z" fill="#9262da" filter="url(#blur1)"/><path d="M296.5,336.2 L307.9,336.3 L307.9,345.7 L296.5,345.8Z" fill="#9262da" filter="url(#blur1)"/><path d="M312.6,336.4 L323.3,336.6 L323.3,345.4 L312.6,345.6Z" fill="#9262da" filter="url(#blur1)"/></g>
<g filter="url(#blur2)" opacity="0.45"><path d="M169.4,269.1 L180.6,266.1 L178.3,276.6 L166.7,279.1Z" fill="#ffffff"/><path d="M183,265.6 L194.9,263.3 L193.1,274.2 L180.8,276.1Z" fill="#ffffff"/><path d="M197.4,262.9 L209.8,261.3 L208.6,272.4 L195.7,273.8Z" fill="#ffffff"/><path d="M212.4,261.1 L225.1,260.1 L224.5,271.4 L211.3,272.2Z" fill="#ffffff"/><path d="M227.8,260 L240.7,259.6 L240.7,271 L227.2,271.2Z" fill="#ffffff"/><path d="M243.4,259.6 L256.3,260 L256.9,271.2 L243.4,271Z" fill="#ffffff"/><path d="M259,260.1 L271.7,261.1 L272.8,272.2 L259.6,271.4Z" fill="#ffffff"/><path d="M274.3,261.3 L286.7,262.9 L288.4,273.8 L275.5,272.4Z" fill="#ffffff"/><path d="M289.2,263.3 L301.1,265.6 L303.3,276.1 L291,274.2Z" fill="#ffffff"/><path d="M303.5,266.1 L314.7,269.1 L317.4,279.1 L305.8,276.6Z" fill="#ffffff"/><path d="M166.2,281.2 L177.9,278.8 L176.1,289.8 L164,291.8Z" fill="#ffffff"/><path d="M180.4,278.3 L192.8,276.5 L191.4,287.9 L178.6,289.5Z" fill="#ffffff"/><path d="M195.4,276.1 L208.4,274.8 L207.4,286.5 L194.1,287.6Z" fill="#ffffff"/><path d="M211.1,274.6 L224.4,273.7 L223.9,285.7 L210.2,286.3Z" fill="#ffffff"/><path d="M227.1,273.6 L240.7,273.4 L240.6,285.4 L226.7,285.6Z" fill="#ffffff"/><path d="M243.4,273.4 L257,273.6 L257.4,285.6 L243.5,285.4Z" fill="#ffffff"/><path d="M259.7,273.7 L273,274.6 L273.9,286.3 L260.2,285.7Z" fill="#ffffff"/><path d="M275.7,274.8 L288.7,276.1 L290,287.6 L276.7,286.5Z" fill="#ffffff"/><path d="M291.3,276.5 L303.7,278.3 L305.5,289.5 L292.7,287.9Z" fill="#ffffff"/><path d="M306.2,278.8 L317.9,281.2 L320.1,291.8 L308,289.8Z" fill="#ffffff"/><path d="M163.7,294 L175.7,292.1 L174.4,303.7 L162,305.1Z" fill="#ffffff"/><path d="M178.3,291.8 L191.1,290.3 L190.1,302.3 L177,303.4Z" fill="#ffffff"/><path d="M193.8,290.1 L207.2,289 L206.5,301.3 L192.8,302.1Z" fill="#ffffff"/><path d="M210,288.8 L223.8,288.2 L223.4,300.6 L209.3,301.1Z" fill="#ffffff"/><path d="M226.6,288.1 L240.6,287.9 L240.6,300.4 L226.3,300.6Z" fill="#ffffff"/><path d="M243.5,287.9 L257.5,288.1 L257.8,300.6 L243.5,300.4Z" fill="#ffffff"/><path d="M260.3,288.2 L274.1,288.8 L274.8,301.1 L260.7,300.6Z" fill="#ffffff"/><path d="M276.9,289 L290.3,290.1 L291.3,302.1 L277.6,301.3Z" fill="#ffffff"/><path d="M293,290.3 L305.8,291.8 L307.1,303.4 L294,302.3Z" fill="#ffffff"/><path d="M308.4,292.1 L320.4,294 L322.1,305.1 L309.7,303.7Z" fill="#ffffff"/><path d="M161.8,307.4 L174.1,306.1 L173.2,317.9 L160.7,318.8Z" fill="#ffffff"/><path d="M176.7,305.8 L189.9,304.8 L189.2,317.1 L175.9,317.8Z" fill="#ffffff"/><path d="M192.6,304.6 L206.4,303.8 L205.9,316.4 L192,316.9Z" fill="#ffffff"/><path d="M209.2,303.7 L223.3,303.2 L223.1,316.1 L208.8,316.4Z" fill="#ffffff"/><path d="M226.3,303.2 L240.6,303 L240.6,315.9 L226.1,316Z" fill="#ffffff"/><path d="M243.5,303 L257.8,303.2 L258,316 L243.5,315.9Z" fill="#ffffff"/><path d="M260.8,303.2 L274.9,303.7 L275.3,316.4 L261,316.1Z" fill="#ffffff"/><path d="M277.7,303.8 L291.5,304.6 L292.1,316.9 L278.2,316.4Z" fill="#ffffff"/><path d="M294.2,304.8 L307.4,305.8 L308.2,317.8 L294.9,317.1Z" fill="#ffffff"/><path d="M310,306.1 L322.3,307.4 L323.4,318.8 L310.9,317.9Z" fill="#ffffff"/><path d="M160.5,321.2 L173.1,320.4 L172.6,332.4 L160,332.8Z" fill="#ffffff"/><path d="M175.7,320.2 L189.1,319.6 L188.7,332.1 L175.3,332.4Z" fill="#ffffff"/><path d="M191.9,319.5 L205.8,319.1 L205.6,331.9 L191.5,332.1Z" fill="#ffffff"/><path d="M208.7,319 L223.1,318.7 L222.9,331.8 L208.5,331.9Z" fill="#ffffff"/><path d="M226,318.7 L240.6,318.6 L240.5,331.7 L225.9,331.7Z" fill="#ffffff"/><path d="M243.5,318.6 L258.1,318.7 L258.2,331.7 L243.6,331.7Z" fill="#ffffff"/><path d="M261,318.7 L275.4,319 L275.6,331.9 L261.2,331.8Z" fill="#ffffff"/><path d="M278.3,319.1 L292.2,319.5 L292.6,332.1 L278.5,331.9Z" fill="#ffffff"/><path d="M295,319.6 L308.4,320.2 L308.8,332.4 L295.4,332.1Z" fill="#ffffff"/><path d="M311,320.4 L323.6,321.2 L324.1,332.8 L311.5,332.4Z" fill="#ffffff"/><path d="M160,349.2 L172.6,349.6 L173.1,361.6 L160.5,360.8Z" fill="#ffffff"/><path d="M175.3,349.6 L188.7,349.9 L189.1,362.4 L175.7,361.8Z" fill="#ffffff"/><path d="M191.5,349.9 L205.6,350.1 L205.8,362.9 L191.9,362.5Z" fill="#ffffff"/><path d="M208.5,350.1 L222.9,350.2 L223.1,363.3 L208.7,363Z" fill="#ffffff"/><path d="M225.9,350.3 L240.5,350.3 L240.6,363.4 L226,363.3Z" fill="#ffffff"/><path d="M243.6,350.3 L258.2,350.3 L258.1,363.3 L243.5,363.4Z" fill="#ffffff"/><path d="M261.2,350.2 L275.6,350.1 L275.4,363 L261,363.3Z" fill="#ffffff"/><path d="M278.5,350.1 L292.6,349.9 L292.2,362.5 L278.3,362.9Z" fill="#ffffff"/><path d="M295.4,349.9 L308.8,349.6 L308.4,361.8 L295,362.4Z" fill="#ffffff"/><path d="M311.5,349.6 L324.1,349.2 L323.6,360.8 L311,361.6Z" fill="#ffffff"/><path d="M160.7,363.2 L173.2,364.1 L174.1,375.9 L161.8,374.6Z" fill="#ffffff"/><path d="M175.9,364.2 L189.2,364.9 L189.9,377.2 L176.7,376.2Z" fill="#ffffff"/><path d="M192,365.1 L205.9,365.6 L206.4,378.2 L192.6,377.4Z" fill="#ffffff"/><path d="M208.8,365.6 L223.1,365.9 L223.3,378.8 L209.2,378.3Z" fill="#ffffff"/><path d="M226.1,366 L240.6,366.1 L240.6,379 L226.3,378.8Z" fill="#ffffff"/><path d="M243.5,366.1 L258,366 L257.8,378.8 L243.5,379Z" fill="#ffffff"/><path d="M261,365.9 L275.3,365.6 L274.9,378.3 L260.8,378.8Z" fill="#ffffff"/><path d="M278.2,365.6 L292.1,365.1 L291.5,377.4 L277.7,378.2Z" fill="#ffffff"/><path d="M294.9,364.9 L308.2,364.2 L307.4,376.2 L294.2,377.2Z" fill="#ffffff"/><path d="M310.9,364.1 L323.4,363.2 L322.3,374.6 L310,375.9Z" fill="#ffffff"/><path d="M162,376.9 L174.4,378.3 L175.7,389.9 L163.7,388Z" fill="#ffffff"/><path d="M177,378.6 L190.1,379.7 L191.1,391.7 L178.3,390.2Z" fill="#ffffff"/><path d="M192.8,379.9 L206.5,380.7 L207.2,393 L193.8,391.9Z" fill="#ffffff"/><path d="M209.3,380.9 L223.4,381.4 L223.8,393.8 L210,393.2Z" fill="#ffffff"/><path d="M226.3,381.4 L240.6,381.6 L240.6,394.1 L226.6,393.9Z" fill="#ffffff"/><path d="M243.5,381.6 L257.8,381.4 L257.5,393.9 L243.5,394.1Z" fill="#ffffff"/><path d="M260.7,381.4 L274.8,380.9 L274.1,393.2 L260.3,393.8Z" fill="#ffffff"/><path d="M277.6,380.7 L291.3,379.9 L290.3,391.9 L276.9,393Z" fill="#ffffff"/><path d="M294,379.7 L307.1,378.6 L305.8,390.2 L293,391.7Z" fill="#ffffff"/><path d="M309.7,378.3 L322.1,376.9 L320.4,388 L308.4,389.9Z" fill="#ffffff"/><path d="M164,390.2 L176.1,392.2 L177.9,403.2 L166.2,400.8Z" fill="#ffffff"/><path d="M178.6,392.5 L191.4,394.1 L192.8,405.5 L180.4,403.7Z" fill="#ffffff"/><path d="M194.1,394.4 L207.4,395.5 L208.4,407.2 L195.4,405.9Z" fill="#ffffff"/><path d="M210.2,395.7 L223.9,396.3 L224.4,408.3 L211.1,407.4Z" fill="#ffffff"/><path d="M226.7,396.4 L240.6,396.6 L240.7,408.6 L227.1,408.4Z" fill="#ffffff"/><path d="M243.5,396.6 L257.4,396.4 L257,408.4 L243.4,408.6Z" fill="#ffffff"/><path d="M260.2,396.3 L273.9,395.7 L273,407.4 L259.7,408.3Z" fill="#ffffff"/><path d="M276.7,395.5 L290,394.4 L288.7,405.9 L275.7,407.2Z" fill="#ffffff"/><path d="M292.7,394.1 L305.5,392.5 L303.7,403.7 L291.3,405.5Z" fill="#ffffff"/><path d="M308,392.2 L320.1,390.2 L317.9,400.8 L306.2,403.2Z" fill="#ffffff"/><path d="M166.7,402.9 L178.3,405.4 L180.6,415.9 L169.4,412.9Z" fill="#ffffff"/><path d="M180.8,405.9 L193.1,407.8 L194.9,418.7 L183,416.4Z" fill="#ffffff"/><path d="M195.7,408.2 L208.6,409.6 L209.8,420.7 L197.4,419.1Z" fill="#ffffff"/><path d="M211.3,409.8 L224.5,410.6 L225.1,421.9 L212.4,420.9Z" fill="#ffffff"/><path d="M227.2,410.8 L240.7,411 L240.7,422.4 L227.8,422Z" fill="#ffffff"/><path d="M243.4,411 L256.9,410.8 L256.3,422 L243.4,422.4Z" fill="#ffffff"/><path d="M259.6,410.6 L272.8,409.8 L271.7,420.9 L259,421.9Z" fill="#ffffff"/><path d="M275.5,409.6 L288.4,408.2 L286.7,419.1 L274.3,420.7Z" fill="#ffffff"/><path d="M291,407.8 L303.3,405.9 L301.1,416.4 L289.2,418.7Z" fill="#ffffff"/><path d="M305.8,405.4 L317.4,402.9 L314.7,412.9 L303.5,415.9Z" fill="#ffffff"/></g>
<polyline points="325,335 424,288.5 526,288.5" fill="none" stroke="#c8cccc" stroke-width="1"/>
<polyline points="320,385.5 527,385.5" fill="none" stroke="#c8cccc" stroke-width="1"/>
</g>
<line x1="0" y1="586.5" x2="800" y2="586.5" stroke="#a4a4a8" stroke-width="1"/>

<!-- title -->
<g font-weight="bold" stroke-linejoin="round"><g fill="#d8d8d8" stroke="#d8d8d8" stroke-width="4.4"><text x="27.92" y="75.38" font-size="65.77" textLength="41.91" lengthAdjust="spacingAndGlyphs">R</text><text x="72.68" y="73.78" font-size="62.70" textLength="42.22" lengthAdjust="spacingAndGlyphs">G</text><text x="119.40" y="73.46" font-size="63.80" textLength="37.54" lengthAdjust="spacingAndGlyphs">B</text><text x="215.26" y="75.22" font-size="65.41" textLength="43.80" lengthAdjust="spacingAndGlyphs">U</text><text x="263.76" y="75.38" font-size="65.56" textLength="43.55" lengthAdjust="spacingAndGlyphs">V</text></g><text x="27.92" y="75.38" font-size="65.77" fill="#fa0c0c" stroke="#fa0c0c" stroke-width="3.2" textLength="41.91" lengthAdjust="spacingAndGlyphs">R</text><text x="72.68" y="73.78" font-size="62.70" fill="#12a034" stroke="#12a034" stroke-width="3.2" textLength="42.22" lengthAdjust="spacingAndGlyphs">G</text><text x="119.40" y="73.46" font-size="63.80" fill="#1f4ff0" stroke="#1f4ff0" stroke-width="3.2" textLength="37.54" lengthAdjust="spacingAndGlyphs">B</text><text x="215.26" y="75.22" font-size="65.41" fill="#8c22ee" stroke="#8c22ee" stroke-width="3.2" textLength="43.80" lengthAdjust="spacingAndGlyphs">U</text><text x="263.76" y="75.38" font-size="65.56" fill="#8c22ee" stroke="#8c22ee" stroke-width="3.2" textLength="43.55" lengthAdjust="spacingAndGlyphs">V</text></g>
<rect x="168" y="49" width="35.6" height="8.6" fill="#fff"/>
<rect x="181" y="36" width="9" height="35.7" fill="#fff"/>
<text x="315.00" y="76.4" font-size="31.4" fill="#f4f4f4" textLength="147.00" lengthAdjust="spacingAndGlyphs" >SPECTRUM</text>
<text x="29.00" y="110.6" font-size="26.9" fill="#f4f4f4" textLength="432.00" lengthAdjust="spacingAndGlyphs" >Higher effective for the plant growth</text>

<!-- labels -->
<text x="478.50" y="280" font-size="33.4" fill="#fafafa" textLength="47.50" lengthAdjust="spacingAndGlyphs" stroke="#fafafa" stroke-width="1">UV</text>
<text x="458.00" y="378" font-size="34.9" fill="#fafafa" textLength="69.00" lengthAdjust="spacingAndGlyphs" stroke="#fafafa" stroke-width="1">RGB</text>
<circle cx="548" cy="270" r="18" fill="#a020f0" opacity="0.5" filter="url(#blur2)"/>
<circle cx="548" cy="270" r="15.8" fill="#a020f2"/>
<g style="isolation:isolate">
<g filter="url(#blur2)" opacity="0.7">
<circle cx="559.6" cy="355" r="16" fill="#ff0000" style="mix-blend-mode:screen"/>
<circle cx="549" cy="376" r="16" fill="#00ff00" style="mix-blend-mode:screen"/>
<circle cx="570" cy="376" r="16" fill="#0000ff" style="mix-blend-mode:screen"/>
</g>
<g filter="url(#blur1)">
<circle cx="559.6" cy="355" r="15.3" fill="#ff0000" style="mix-blend-mode:screen"/>
<circle cx="549" cy="376" r="15.3" fill="#00ff00" style="mix-blend-mode:screen"/>
<circle cx="570" cy="376" r="15.3" fill="#0000ff" style="mix-blend-mode:screen"/>
</g>
</g>

<!-- chart -->

<defs><linearGradient id="spec" x1="63.4" y1="0" x2="411.2" y2="0" gradientUnits="userSpaceOnUse"><stop offset="0.0000" stop-color="#9a4aa8"/><stop offset="0.0500" stop-color="#7e3c9c"/><stop offset="0.1000" stop-color="#4e2c8c"/><stop offset="0.1500" stop-color="#2c2488"/><stop offset="0.1875" stop-color="#1c2c80"/><stop offset="0.2250" stop-color="#183e78"/><stop offset="0.2550" stop-color="#10606a"/><stop offset="0.2950" stop-color="#0c8a48"/><stop offset="0.3300" stop-color="#20a030"/><stop offset="0.3700" stop-color="#78bc20"/><stop offset="0.4125" stop-color="#d4dc10"/><stop offset="0.4500" stop-color="#f8ec00"/><stop offset="0.4925" stop-color="#f8d400"/><stop offset="0.5375" stop-color="#f29a08"/><stop offset="0.5800" stop-color="#e83c10"/><stop offset="0.6050" stop-color="#e00a14"/><stop offset="1.0000" stop-color="#c8101e"/></linearGradient></defs>
<rect x="30.5" y="598.5" width="410" height="193" fill="#fff" stroke="#707070" stroke-width="1"/>
<path d="M64.3,771.5 C65.25,770.25 68.33,767.25 70.00,764.00 C71.67,760.75 72.88,756.33 74.30,752.00 C75.72,747.67 77.12,741.75 78.50,738.00 C79.88,734.25 81.27,729.50 82.60,729.50 C83.93,729.50 85.12,733.85 86.50,738.00 C87.88,742.15 89.18,750.17 90.90,754.40 C92.62,758.63 94.95,762.13 96.80,763.40 C98.65,764.67 100.22,763.50 102.00,762.00 C103.78,760.50 106.00,758.40 107.50,754.40 C109.00,750.40 110.02,743.93 111.00,738.00 C111.98,732.07 112.57,726.80 113.40,718.80 C114.23,710.80 115.20,699.90 116.00,690.00 C116.80,680.10 117.37,668.73 118.20,659.40 C119.03,650.07 119.93,640.53 121.00,634.00 C122.07,627.47 123.52,620.87 124.60,620.20 C125.68,619.53 126.60,625.45 127.50,630.00 C128.40,634.55 129.17,640.83 130.00,647.50 C130.83,654.17 131.70,662.08 132.50,670.00 C133.30,677.92 133.88,687.33 134.80,695.00 C135.72,702.67 136.82,709.67 138.00,716.00 C139.18,722.33 140.57,728.17 141.90,733.00 C143.23,737.83 144.42,742.03 146.00,745.00 C147.58,747.97 149.90,750.13 151.40,750.80 C152.90,751.47 153.60,750.38 155.00,749.00 C156.40,747.62 158.30,746.33 159.80,742.50 C161.30,738.67 162.42,733.12 164.00,726.00 C165.58,718.88 167.80,707.47 169.30,699.80 C170.80,692.13 171.82,685.55 173.00,680.00 C174.18,674.45 175.23,670.67 176.40,666.50 C177.57,662.33 178.73,657.58 180.00,655.00 C181.27,652.42 182.67,650.50 184.00,651.00 C185.33,651.50 186.70,654.62 188.00,658.00 C189.30,661.38 190.37,665.97 191.80,671.30 C193.23,676.63 195.15,684.22 196.60,690.00 C198.05,695.78 199.18,701.00 200.50,706.00 C201.82,711.00 203.00,715.08 204.50,720.00 C206.00,724.92 207.58,730.50 209.50,735.50 C211.42,740.50 213.92,746.17 216.00,750.00 C218.08,753.83 220.00,756.00 222.00,758.50 C224.00,761.00 226.17,763.33 228.00,765.00 C229.83,766.67 231.32,767.53 233.00,768.50 C234.68,769.47 237.09,770.63 238.10,770.80 C239.11,770.97 238.59,769.76 239.04,769.53 C239.49,769.29 240.20,769.44 240.78,769.40 C241.36,769.35 241.94,769.30 242.52,769.25 C243.10,769.19 243.68,769.13 244.26,769.07 C244.84,769.00 245.42,768.93 246.00,768.85 C246.57,768.77 247.15,768.69 247.73,768.58 C248.31,768.48 248.89,768.37 249.47,768.22 C250.05,768.07 250.63,767.92 251.21,767.71 C251.79,767.49 252.37,767.27 252.95,766.94 C253.53,766.61 254.11,766.25 254.69,765.74 C255.27,765.22 255.85,764.66 256.43,763.85 C257.01,763.05 257.59,762.14 258.17,760.91 C258.75,759.67 259.33,758.27 259.91,756.45 C260.49,754.62 261.07,752.54 261.65,749.96 C262.23,747.39 262.81,744.45 263.38,741.00 C263.96,737.55 264.54,733.63 265.12,729.27 C265.70,724.91 266.28,720.02 266.86,714.85 C267.44,709.68 268.02,703.97 268.60,698.28 C269.18,692.58 269.76,686.42 270.34,680.66 C270.92,674.91 271.50,668.87 272.08,663.75 C272.66,658.63 273.24,653.56 273.82,649.93 C274.40,646.31 274.98,643.36 275.56,641.98 C276.14,640.61 276.72,640.77 277.30,641.69 C277.88,642.62 278.46,644.82 279.04,647.51 C279.62,650.21 280.20,653.96 280.77,657.88 C281.35,661.80 281.93,666.45 282.51,671.04 C283.09,675.63 283.67,680.63 284.25,685.44 C284.83,690.24 285.41,695.20 285.99,699.89 C286.57,704.57 287.15,709.21 287.73,713.52 C288.31,717.84 288.89,721.97 289.47,725.76 C290.05,729.55 290.63,733.07 291.21,736.26 C291.79,739.44 292.37,742.31 292.95,744.88 C293.53,747.46 294.11,749.70 294.69,751.70 C295.27,753.69 295.85,755.38 296.43,756.88 C297.01,758.37 297.59,759.60 298.17,760.68 C298.74,761.77 299.32,762.63 299.90,763.40 C300.48,764.17 301.06,764.76 301.64,765.29 C302.22,765.82 302.80,766.22 303.38,766.58 C303.96,766.94 304.54,767.21 305.12,767.46 C305.70,767.71 306.28,767.89 306.86,768.06 C307.44,768.23 308.02,768.36 308.60,768.48 C309.18,768.61 309.76,768.70 310.34,768.79 C310.92,768.88 311.50,768.95 312.08,769.02 C312.66,769.09 313.24,769.15 313.82,769.20 C314.40,769.26 314.98,769.31 315.56,769.35 C316.13,769.40 316.71,769.44 317.29,769.48 C317.87,769.52 318.45,769.56 319.03,769.59 C319.61,769.63 320.19,769.66 320.77,769.69 C321.35,769.72 321.93,769.75 322.51,769.77 C323.09,769.80 323.67,769.83 324.25,769.85 C324.83,769.88 325.41,769.90 325.99,769.92 C326.57,769.94 327.15,769.96 327.73,769.98 C328.31,770.00 328.89,770.02 329.47,770.04 C330.05,770.06 330.63,770.08 331.21,770.09 C331.79,770.11 332.37,770.13 332.94,770.14 C333.52,770.16 334.10,770.17 334.68,770.18 C335.26,770.20 335.84,770.21 336.42,770.22 C337.00,770.24 337.58,770.25 338.16,770.26 C338.74,770.27 333.52,770.21 339.90,770.29 C346.28,770.37 364.54,770.64 376.42,770.74 C388.30,770.84 405.40,770.77 411.20,770.89 C417.00,771.02 411.20,771.40 411.20,771.50 Z" fill="url(#spec)"/>
<line x1="63.7" y1="613" x2="63.7" y2="771.5" stroke="#555" stroke-width="1"/>
<line x1="63.7" y1="771.5" x2="415.5" y2="771.5" stroke="#555" stroke-width="1"/>
<line x1="63.7" y1="741.1" x2="67" y2="741.1" stroke="#555" stroke-width="0.9"/><text x="59.5" y="744.1" text-anchor="end" font-size="8.6" fill="#333">0.2</text><line x1="63.7" y1="710.7" x2="67" y2="710.7" stroke="#555" stroke-width="0.9"/><text x="59.5" y="713.7" text-anchor="end" font-size="8.6" fill="#333">0.4</text><line x1="63.7" y1="680.3" x2="67" y2="680.3" stroke="#555" stroke-width="0.9"/><text x="59.5" y="683.3" text-anchor="end" font-size="8.6" fill="#333">0.6</text><line x1="63.7" y1="649.9" x2="67" y2="649.9" stroke="#555" stroke-width="0.9"/><text x="59.5" y="652.9" text-anchor="end" font-size="8.6" fill="#333">0.8</text><line x1="63.7" y1="619.5" x2="67" y2="619.5" stroke="#555" stroke-width="0.9"/><text x="59.5" y="622.5" text-anchor="end" font-size="8.6" fill="#333">1.0</text><line x1="63.4" y1="771.5" x2="63.4" y2="768.5" stroke="#555" stroke-width="0.9"/><text x="63.4" y="784" text-anchor="middle" font-size="8.6" fill="#333">380</text><line x1="98.2" y1="771.5" x2="98.2" y2="768.5" stroke="#555" stroke-width="0.9"/><text x="98.2" y="784" text-anchor="middle" font-size="8.6" fill="#333">420</text><line x1="133" y1="771.5" x2="133" y2="768.5" stroke="#555" stroke-width="0.9"/><text x="133" y="784" text-anchor="middle" font-size="8.6" fill="#333">460</text><line x1="167.7" y1="771.5" x2="167.7" y2="768.5" stroke="#555" stroke-width="0.9"/><text x="167.7" y="784" text-anchor="middle" font-size="8.6" fill="#333">500</text><line x1="202.5" y1="771.5" x2="202.5" y2="768.5" stroke="#555" stroke-width="0.9"/><text x="202.5" y="784" text-anchor="middle" font-size="8.6" fill="#333">540</text><line x1="237.3" y1="771.5" x2="237.3" y2="768.5" stroke="#555" stroke-width="0.9"/><text x="237.3" y="784" text-anchor="middle" font-size="8.6" fill="#333">580</text><line x1="272.1" y1="771.5" x2="272.1" y2="768.5" stroke="#555" stroke-width="0.9"/><text x="272.1" y="784" text-anchor="middle" font-size="8.6" fill="#333">620</text><line x1="306.9" y1="771.5" x2="306.9" y2="768.5" stroke="#555" stroke-width="0.9"/><text x="306.9" y="784" text-anchor="middle" font-size="8.6" fill="#333">660</text><line x1="341.6" y1="771.5" x2="341.6" y2="768.5" stroke="#555" stroke-width="0.9"/><text x="341.6" y="784" text-anchor="middle" font-size="8.6" fill="#333">700</text><line x1="376.4" y1="771.5" x2="376.4" y2="768.5" stroke="#555" stroke-width="0.9"/><text x="376.4" y="784" text-anchor="middle" font-size="8.6" fill="#333">740</text><line x1="411.2" y1="771.5" x2="411.2" y2="768.5" stroke="#555" stroke-width="0.9"/><text x="411.2" y="784" text-anchor="middle" font-size="8.6" fill="#333">780</text>
<text x="125.3" y="616.2" text-anchor="middle" font-size="12.3" fill="#222">Blue</text>
<text x="185.6" y="647" text-anchor="middle" font-size="12.3" fill="#222">Green</text>
<text x="83" y="725.2" text-anchor="middle" font-size="12.3" fill="#222">UVA</text>
<text x="277.5" y="637.4" text-anchor="middle" font-size="12.3" fill="#222">Red</text>


<!-- checks -->
<defs><linearGradient id="chk" x1="0.85" y1="0" x2="0.25" y2="1"><stop offset="0" stop-color="#c4ea4c"/><stop offset="0.45" stop-color="#8cc82c"/><stop offset="0.85" stop-color="#62a618"/><stop offset="1" stop-color="#4a8e10"/></linearGradient>
<path id="ck" d="M480.4,641 C479.6,639 480.8,636.2 482.6,635.4 C484,634.8 485.4,635.2 486.4,636.2 L496.3,646.6 C502,639.5 509,631.5 515.6,626 C517.5,624.5 520,624.4 521.3,626.2 C522.4,627.8 522.3,629.8 521.2,631.2 C513.5,639 505,649 498,658.6 C497,660 495.4,660.8 494.2,659.8 Z" fill="url(#chk)"/></defs>
<use href="#ck"/>
<use href="#ck" transform="translate(0,50)"/>
<use href="#ck" transform="translate(-3.8,100)"/>

<text x="532.00" y="652.75" font-size="26.2" fill="#141414" textLength="203.00" lengthAdjust="spacingAndGlyphs" >More transparent</text>
<text x="531.00" y="704.2" font-size="26.2" fill="#141414" textLength="192.00" lengthAdjust="spacingAndGlyphs" >Promote growth</text>
<text x="531.00" y="757.5" font-size="26.2" fill="#141414" textLength="156.00" lengthAdjust="spacingAndGlyphs" >More colorful</text>
</svg>
</body></html>
